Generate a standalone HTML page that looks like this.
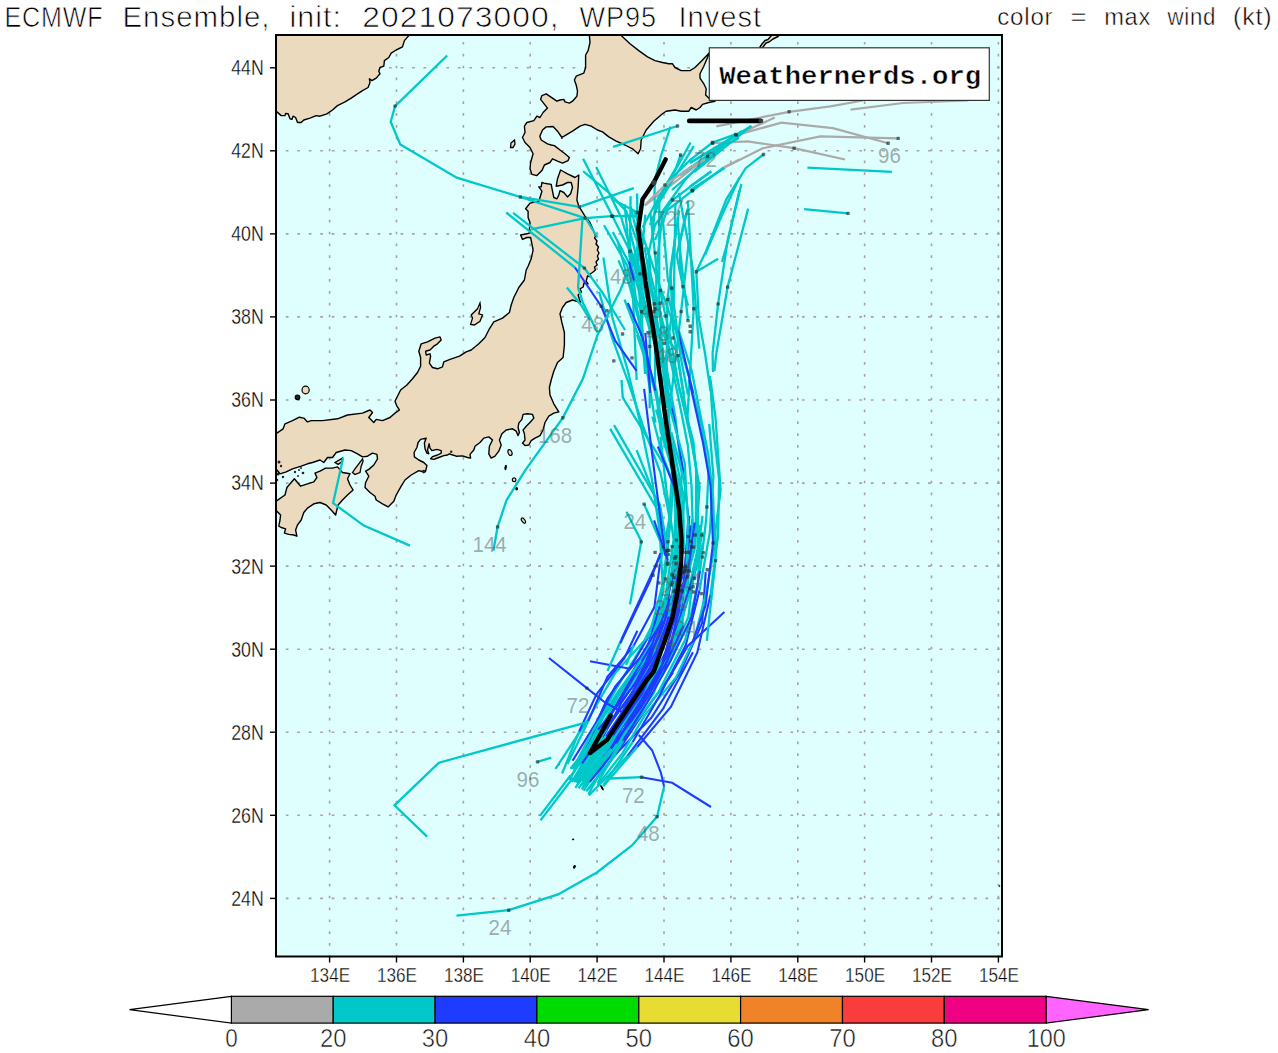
<!DOCTYPE html>
<html><head><meta charset="utf-8"><title>ECMWF Ensemble WP95</title>
<style>
html,body{margin:0;padding:0;background:#fff;}
body{width:1278px;height:1053px;overflow:hidden;font-family:"Liberation Sans",sans-serif;}
svg{display:block;}
.land{fill:#ebdabe;stroke:#000;stroke-width:1.4;stroke-linejoin:round;}
.isl{fill:#ebdabe;stroke:#000;stroke-width:1.3;}
.t{font-family:"Liberation Sans",sans-serif;fill:#000;stroke:#fff;stroke-width:0.75px;}
.hl{font-family:"Liberation Sans",sans-serif;fill:rgba(92,92,92,0.52);font-size:22.6px;text-anchor:middle;}
.ax{font-family:"Liberation Sans",sans-serif;fill:#000;font-size:20.3px;stroke:#fff;stroke-width:0.35px;}
.cb{font-family:"Liberation Sans",sans-serif;fill:#111;font-size:25.3px;text-anchor:middle;stroke:#fff;stroke-width:0.55px;}
.grid{stroke:#aaa0a0;stroke-width:1.6;stroke-dasharray:2.6 8.9;fill:none;}
</style></head><body>
<svg width="1278" height="1053" viewBox="0 0 1278 1053">
<rect x="0" y="0" width="1278" height="1053" fill="#fff"/>
<defs><clipPath id="clip"><rect x="276.0" y="35.0" width="726.0" height="921.5"/></clipPath></defs>
<rect x="276.0" y="35.0" width="726.0" height="921.5" fill="#dfffff"/>
<g clip-path="url(#clip)">
<path class="grid" style="stroke-dasharray:2.7 9.1575" d="M329.6,957.65 V35.0"/>
<path class="grid" style="stroke-dasharray:2.7 9.1575" d="M396.5,957.65 V35.0"/>
<path class="grid" style="stroke-dasharray:2.7 9.1575" d="M463.4,957.65 V35.0"/>
<path class="grid" style="stroke-dasharray:2.7 9.1575" d="M530.2,957.65 V35.0"/>
<path class="grid" style="stroke-dasharray:2.7 9.1575" d="M597.1,957.65 V35.0"/>
<path class="grid" style="stroke-dasharray:2.7 9.1575" d="M664.0,957.65 V35.0"/>
<path class="grid" style="stroke-dasharray:2.7 9.1575" d="M730.9,957.65 V35.0"/>
<path class="grid" style="stroke-dasharray:2.7 9.1575" d="M797.8,957.65 V35.0"/>
<path class="grid" style="stroke-dasharray:2.7 9.1575" d="M864.6,957.65 V35.0"/>
<path class="grid" style="stroke-dasharray:2.7 9.1575" d="M931.5,957.65 V35.0"/>
<path class="grid" style="stroke-dasharray:2.7 9.1575" d="M998.4,957.65 V35.0"/>
<path class="grid" style="stroke-dasharray:2.7 8.77" d="M274.35,898.4 H1002.0"/>
<path class="grid" style="stroke-dasharray:2.7 8.77" d="M274.35,815.3 H1002.0"/>
<path class="grid" style="stroke-dasharray:2.7 8.77" d="M274.35,732.2 H1002.0"/>
<path class="grid" style="stroke-dasharray:2.7 8.77" d="M274.35,649.2 H1002.0"/>
<path class="grid" style="stroke-dasharray:2.7 8.77" d="M274.35,566.1 H1002.0"/>
<path class="grid" style="stroke-dasharray:2.7 8.77" d="M274.35,483.1 H1002.0"/>
<path class="grid" style="stroke-dasharray:2.7 8.77" d="M274.35,400.0 H1002.0"/>
<path class="grid" style="stroke-dasharray:2.7 8.77" d="M274.35,316.9 H1002.0"/>
<path class="grid" style="stroke-dasharray:2.7 8.77" d="M274.35,233.9 H1002.0"/>
<path class="grid" style="stroke-dasharray:2.7 8.77" d="M274.35,150.8 H1002.0"/>
<path class="grid" style="stroke-dasharray:2.7 8.77" d="M274.35,67.8 H1002.0"/>
<path class="land" d="M274.0,33.0 L408.8,33.0 L408.8,35.6 L404.4,40.6 L402.5,46.9 L396.2,50.0 L391.2,53.1 L388.8,57.5 L384.4,60.6 L383.8,66.2 L380.0,67.5 L378.8,71.2 L380.0,73.8 L376.2,78.1 L371.9,80.6 L369.4,78.8 L370.0,82.5 L368.1,87.5 L362.5,90.6 L357.5,93.8 L351.2,98.1 L345.0,101.9 L337.5,105.6 L332.5,110.0 L326.9,113.8 L320.0,116.2 L316.2,115.6 L310.0,118.1 L303.8,120.0 L301.2,122.5 L297.5,122.5 L295.6,117.5 L293.1,116.2 L291.9,119.4 L290.0,118.8 L288.1,113.8 L285.6,113.5 L285.0,115.6 L281.2,115.6 L276.9,111.9 L274.0,110.0Z"/>
<path class="land" d="M589.4,33.0 L589.4,35.6 L590.0,42.5 L588.1,50.6 L585.6,55.0 L585.6,67.5 L583.8,73.1 L576.2,76.2 L574.4,80.0 L576.2,85.0 L577.5,91.2 L576.9,96.2 L572.5,101.2 L569.4,103.1 L565.0,101.9 L563.8,99.4 L560.0,100.0 L556.9,101.2 L546.2,93.8 L541.9,95.6 L540.6,99.4 L547.5,108.1 L543.1,112.5 L540.0,117.5 L536.9,116.2 L533.8,120.6 L526.9,122.5 L524.4,126.2 L525.0,132.5 L522.5,137.5 L525.0,142.5 L530.0,147.5 L533.1,153.8 L530.6,162.5 L530.0,168.8 L531.9,174.4 L536.9,175.6 L541.9,170.6 L544.4,165.0 L550.0,162.5 L552.5,158.8 L557.5,161.2 L562.5,163.1 L568.1,160.6 L569.4,157.5 L565.0,153.8 L560.0,150.0 L554.4,145.6 L551.2,145.0 L547.5,143.8 L541.2,140.0 L539.8,136.2 L542.5,130.0 L546.2,126.9 L553.1,126.5 L557.5,131.2 L561.9,137.5 L565.0,135.6 L572.5,131.2 L580.0,126.2 L585.0,124.4 L591.2,126.2 L597.5,130.0 L602.5,131.9 L608.8,136.9 L616.2,141.2 L625.0,145.0 L632.5,148.8 L638.1,153.8 L640.6,148.8 L641.2,140.0 L646.2,130.0 L653.8,121.2 L662.5,113.8 L666.2,111.2 L675.0,110.0 L681.2,111.2 L688.8,111.2 L691.2,107.5 L696.2,110.0 L700.0,107.5 L702.5,104.4 L708.8,102.5 L715.0,101.2 L708.8,98.1 L705.6,95.0 L706.2,88.8 L703.8,83.8 L700.0,78.1 L700.0,73.8 L703.8,66.2 L708.8,54.4 L712.0,50.0 L702.5,60.0 L695.0,67.5 L690.0,70.6 L681.2,70.6 L675.0,67.5 L672.5,63.8 L668.8,63.8 L662.5,62.5 L655.0,60.6 L647.5,56.9 L638.8,50.6 L630.0,43.8 L621.2,35.6 L621.2,33.0Z"/>
<path class="land" d="M780.5,33.0 L778.0,36.5 L773.0,39.0 L769.0,42.0 L766.0,43.0 L763.0,47.0 L761.0,48.5 L760.0,47.0 L762.0,44.0 L765.0,40.5 L768.0,39.5 L771.0,36.0 L775.0,33.0Z"/>
<path class="land" d="M541.9,182.5 L543.8,183.1 L547.5,183.8 L551.2,184.4 L552.5,191.2 L553.8,197.5 L556.9,198.8 L558.8,195.0 L560.0,190.6 L563.8,192.5 L567.5,196.9 L570.6,193.8 L572.5,187.5 L571.2,182.5 L567.5,182.5 L562.5,185.0 L556.2,186.2 L557.5,178.8 L560.6,170.0 L567.5,173.8 L575.0,177.5 L578.8,175.0 L578.1,187.5 L576.9,200.0 L578.8,206.2 L585.0,216.2 L590.0,222.5 L593.8,231.2 L595.5,236.0 L594.6,238.0 L597.0,241.0 L596.0,244.0 L598.5,247.0 L597.3,250.0 L599.0,253.0 L597.4,256.0 L598.5,259.0 L596.0,262.0 L597.2,265.0 L594.5,267.0 L595.4,270.0 L592.5,272.5 L590.0,274.0 L591.2,277.0 L587.5,276.0 L586.2,281.2 L588.0,284.0 L584.0,283.0 L583.2,287.0 L580.0,288.8 L581.5,292.0 L578.1,295.0 L579.3,299.0 L580.6,302.5 L572.5,300.0 L566.2,302.5 L562.5,307.5 L560.0,313.8 L561.9,322.5 L564.4,332.5 L564.4,345.0 L563.1,357.5 L557.5,362.5 L553.8,371.2 L551.2,380.0 L549.4,387.5 L550.0,395.0 L553.8,403.8 L558.8,411.9 L553.8,413.1 L548.8,416.2 L545.0,422.5 L543.1,430.0 L540.0,435.6 L535.0,438.1 L531.2,440.6 L528.8,445.0 L525.0,445.6 L522.5,443.1 L525.0,440.0 L524.4,433.8 L523.1,430.0 L526.2,426.2 L530.0,422.5 L533.8,418.1 L532.5,414.4 L527.5,413.8 L523.1,414.4 L521.9,419.4 L518.8,423.1 L518.1,427.5 L519.4,432.5 L518.1,435.6 L516.2,431.2 L512.5,428.8 L506.2,430.0 L501.9,433.8 L499.4,440.0 L501.2,445.0 L498.8,451.2 L495.0,456.2 L491.2,458.1 L488.8,453.8 L489.4,446.2 L492.5,440.0 L488.8,436.9 L483.8,438.1 L480.0,442.5 L475.0,446.2 L473.8,450.0 L470.0,454.4 L470.6,458.1 L467.5,457.5 L462.5,455.9 L456.2,456.2 L451.2,454.5 L449.4,453.8 L447.5,455.0 L443.8,455.6 L438.8,457.5 L433.8,459.4 L430.6,458.8 L432.5,456.6 L437.5,455.0 L441.2,453.1 L441.2,450.6 L436.9,449.4 L431.9,450.6 L430.0,448.1 L429.1,443.8 L427.5,450.0 L428.8,453.8 L426.9,453.1 L425.0,448.8 L424.4,443.1 L426.2,438.1 L420.6,439.4 L418.1,442.5 L416.9,447.5 L414.1,452.5 L414.4,456.9 L418.8,460.0 L423.8,462.5 L426.9,465.6 L425.5,471.5 L422.0,471.5 L418.8,470.6 L411.2,475.0 L405.0,480.0 L401.2,486.2 L396.2,495.0 L393.8,501.2 L388.1,506.9 L382.5,503.8 L376.2,500.0 L375.0,496.2 L370.0,492.5 L365.0,487.5 L365.6,482.5 L368.8,476.2 L365.6,471.2 L368.8,469.4 L373.8,465.0 L377.5,458.8 L376.9,454.4 L372.5,453.1 L367.5,456.2 L362.5,456.9 L357.5,453.8 L351.2,450.6 L345.0,450.0 L336.2,452.5 L332.5,457.5 L327.5,457.5 L323.8,462.5 L320.0,460.0 L312.5,462.5 L307.5,463.8 L301.2,466.2 L292.5,468.8 L286.2,471.9 L280.0,473.8 L276.9,470.0 L274.0,470.0 L274.0,434.0 L276.9,433.1 L283.1,428.8 L285.0,423.8 L292.5,420.6 L299.4,417.2 L303.8,418.1 L307.5,421.9 L311.2,420.6 L322.5,420.6 L337.5,418.8 L347.5,415.0 L362.5,413.1 L370.0,410.0 L372.5,412.5 L368.8,417.5 L373.8,422.5 L376.2,419.4 L382.5,420.6 L390.0,417.5 L395.0,413.1 L399.4,410.0 L396.9,406.2 L395.0,401.2 L397.5,396.2 L400.6,390.0 L406.9,385.0 L412.5,378.8 L417.5,372.5 L420.6,366.2 L420.6,357.5 L418.8,351.2 L421.2,343.8 L427.5,341.9 L435.0,338.1 L440.0,336.9 L441.2,340.0 L437.5,343.8 L433.8,346.2 L430.0,350.0 L425.6,351.2 L426.2,355.0 L430.0,353.8 L430.6,356.2 L429.4,363.1 L432.5,367.5 L437.5,368.8 L442.5,366.9 L443.8,361.9 L450.0,359.4 L459.5,356.2 L466.2,351.9 L471.2,350.0 L478.8,343.8 L485.0,337.5 L489.4,328.8 L493.8,321.9 L502.5,318.1 L509.4,312.5 L511.2,305.0 L513.8,297.5 L518.8,287.5 L524.4,280.0 L526.2,270.0 L528.1,266.2 L531.2,258.8 L533.1,250.0 L531.9,243.8 L530.6,237.5 L526.9,237.5 L522.5,239.4 L520.6,235.0 L526.9,233.8 L530.6,232.5 L529.4,228.8 L530.0,222.5 L528.1,217.5 L528.1,211.2 L525.6,208.8 L530.0,203.1 L538.8,201.2 L540.0,197.5 L541.9,191.2 L538.8,186.9 L541.2,186.9Z"/>
<path class="land" d="M274.0,500.6 L276.9,500.6 L285.0,495.0 L286.9,487.5 L294.4,478.8 L300.6,486.2 L307.5,483.8 L313.8,481.9 L316.9,477.5 L315.0,473.1 L320.0,471.2 L325.6,468.1 L332.5,468.1 L337.5,466.9 L342.5,472.5 L350.0,473.8 L347.5,478.8 L350.0,485.0 L353.1,490.0 L347.5,495.0 L342.5,500.0 L338.1,505.0 L335.6,515.0 L331.2,510.0 L326.2,505.0 L320.0,502.5 L313.8,503.8 L307.5,508.1 L303.8,512.5 L301.2,520.0 L297.5,525.0 L295.6,530.0 L296.9,536.2 L293.8,535.0 L288.8,534.4 L284.4,533.1 L285.6,528.8 L281.2,527.5 L278.8,526.2 L280.0,520.0 L280.6,515.0 L276.9,511.2 L274.0,511.0Z"/>
<path class="isl" d="M514.5,140.0 L511.0,143.0 L510.5,147.5 L513.0,147.5 L515.0,144.0Z"/>
<path class="isl" d="M480.0,303.1 L477.5,308.8 L471.2,315.0 L472.5,318.1 L470.6,324.4 L474.4,325.0 L480.0,321.2 L482.5,315.0 L478.8,313.8 L480.6,307.5Z"/>
<path class="isl" d="M362.5,458.8 L358.8,463.8 L355.0,468.8 L352.5,472.5 L355.0,474.4 L360.0,472.5 L361.2,466.2 L363.1,461.2Z"/>
<path class="isl" d="M342.5,458.1 L335.0,462.5 L338.1,464.4 L341.9,461.9Z"/>
<ellipse cx="305.6" cy="390" rx="3.6" ry="3.8" transform="rotate(0 305.6 390)" fill="#ebdabe" stroke="#000" stroke-width="1.2"/>
<ellipse cx="297.5" cy="397.3" rx="2.3" ry="2.3" transform="rotate(0 297.5 397.3)" fill="#222" stroke="#000" stroke-width="1.2"/>
<ellipse cx="510" cy="452.5" rx="1.9" ry="3.0" transform="rotate(-20 510 452.5)" fill="#ebdabe" stroke="#000" stroke-width="1.2"/>
<ellipse cx="505.6" cy="467.5" rx="0.6" ry="2.3" transform="rotate(10 505.6 467.5)" fill="#000" stroke="#000" stroke-width="1.2"/>
<ellipse cx="514.1" cy="479.8" rx="1.8" ry="1.9" transform="rotate(0 514.1 479.8)" fill="#ebdabe" stroke="#000" stroke-width="1.2"/>
<ellipse cx="516.6" cy="488.8" rx="0.8" ry="1.2" transform="rotate(0 516.6 488.8)" fill="#000" stroke="#000" stroke-width="1.2"/>
<ellipse cx="523.4" cy="520.6" rx="1.5" ry="3.0" transform="rotate(-35 523.4 520.6)" fill="#ebdabe" stroke="#000" stroke-width="1.2"/>
<ellipse cx="602" cy="787.8" rx="0.5" ry="2.6" transform="rotate(-30 602 787.8)" fill="#000" stroke="#000" stroke-width="1"/>
<ellipse cx="573.1" cy="839.4" rx="0.6" ry="0.6" transform="rotate(0 573.1 839.4)" fill="#000" stroke="#000" stroke-width="1"/>
<ellipse cx="574.4" cy="866.8" rx="0.8" ry="1.4" transform="rotate(30 574.4 866.8)" fill="#000" stroke="#000" stroke-width="1"/>
<ellipse cx="559.3" cy="764.5" rx="0.3" ry="0.3" transform="rotate(0 559.3 764.5)" fill="#000" stroke="#000" stroke-width="0.8"/>
<ellipse cx="541" cy="629" rx="0.3" ry="0.3" transform="rotate(0 541 629)" fill="#000" stroke="#000" stroke-width="0.8"/>
<ellipse cx="999.5" cy="886" rx="0.3" ry="0.6" transform="rotate(0 999.5 886)" fill="#000" stroke="#000" stroke-width="0.8"/>
<circle cx="279" cy="462" r="1.5" fill="#222"/>
<circle cx="281" cy="466" r="1.2" fill="#222"/>
<circle cx="278" cy="474" r="1.5" fill="#222"/>
<circle cx="283" cy="477" r="1.2" fill="#222"/>
<circle cx="277" cy="480" r="1.3" fill="#222"/>
<circle cx="295" cy="472" r="1.2" fill="#222"/>
<circle cx="299" cy="470" r="1.0" fill="#222"/>
<circle cx="303" cy="473" r="1.3" fill="#222"/>
<circle cx="298" cy="476" r="1.0" fill="#222"/>
<circle cx="301" cy="468" r="1.0" fill="#222"/>
<circle cx="423.75" cy="471.6" r="1.8" fill="#222"/>
<circle cx="451.2" cy="451.8" r="1.2" fill="#222"/>
<circle cx="561.9" cy="137.9" r="1.0" fill="#222"/>
<path d="M574.2,771.5 L594.2,728.0 L617.6,686.5 L639.3,650.8 L659.8,610.1 L666.9,564.3 L669.0,519.8 L672.1,472.4 L663.5,425.9 L651.9,379.7 L637.0,334.7" stroke="#00c8c8" stroke-width="2.3" fill="none" stroke-linejoin="miter" stroke-miterlimit="3" stroke-linecap="butt"/>
<path d="M575.4,787.9 L600.7,748.4" stroke="#00c8c8" stroke-width="2.3" fill="none" stroke-linejoin="miter" stroke-miterlimit="3" stroke-linecap="butt"/>
<path d="M600.7,748.4 L632.5,713.1 L662.9,674.2 L680.6,630.4" stroke="#1e3cff" stroke-width="2.1" fill="none" stroke-linejoin="miter" stroke-miterlimit="3" stroke-linecap="butt"/>
<path d="M580.2,778.7 L611.3,730.9 L644.8,684.7 L667.3,632.7 L686.5,578.0 L692.2,519.2" stroke="#00c8c8" stroke-width="2.3" fill="none" stroke-linejoin="miter" stroke-miterlimit="3" stroke-linecap="butt"/>
<path d="M588.5,794.1 L605.9,761.5" stroke="#00c8c8" stroke-width="2.3" fill="none" stroke-linejoin="miter" stroke-miterlimit="3" stroke-linecap="butt"/>
<path d="M605.9,761.5 L629.2,729.8 L647.5,696.3 L663.8,660.2 L679.1,624.9 L684.6,585.6" stroke="#1e3cff" stroke-width="2.1" fill="none" stroke-linejoin="miter" stroke-miterlimit="3" stroke-linecap="butt"/>
<path d="M684.6,585.6 L695.2,547.0 L696.1,506.1 L696.1,467.4 L689.6,429.7 L683.0,392.4 L677.8,354.5" stroke="#00c8c8" stroke-width="2.3" fill="none" stroke-linejoin="miter" stroke-miterlimit="3" stroke-linecap="butt"/>
<path d="M583.7,772.8 L611.3,739.4" stroke="#00c8c8" stroke-width="2.3" fill="none" stroke-linejoin="miter" stroke-miterlimit="3" stroke-linecap="butt"/>
<path d="M611.3,739.4 L640.0,706.6 L664.4,668.5 L681.4,628.5" stroke="#1e3cff" stroke-width="2.1" fill="none" stroke-linejoin="miter" stroke-miterlimit="3" stroke-linecap="butt"/>
<path d="M681.4,628.5 L688.0,583.6 L691.7,538.5" stroke="#00c8c8" stroke-width="2.3" fill="none" stroke-linejoin="miter" stroke-miterlimit="3" stroke-linecap="butt"/>
<path d="M574.2,782.1 L606.3,740.7" stroke="#00c8c8" stroke-width="2.3" fill="none" stroke-linejoin="miter" stroke-miterlimit="3" stroke-linecap="butt"/>
<path d="M606.3,740.7 L632.2,695.1 L654.4,649.9 L668.0,600.6 L675.1,550.1" stroke="#1e3cff" stroke-width="2.1" fill="none" stroke-linejoin="miter" stroke-miterlimit="3" stroke-linecap="butt"/>
<path d="M580.8,772.6 L614.5,729.2 L642.6,682.1 L667.2,634.2 L683.7,581.5 L690.6,525.5" stroke="#1e3cff" stroke-width="2.1" fill="none" stroke-linejoin="miter" stroke-miterlimit="3" stroke-linecap="butt"/>
<path d="M586.2,791.2 L615.8,754.1" stroke="#00c8c8" stroke-width="2.3" fill="none" stroke-linejoin="miter" stroke-miterlimit="3" stroke-linecap="butt"/>
<path d="M615.8,754.1 L651.3,717.8 L680.7,671.6 L702.2,622.8 L705.7,572.1" stroke="#1e3cff" stroke-width="2.1" fill="none" stroke-linejoin="miter" stroke-miterlimit="3" stroke-linecap="butt"/>
<path d="M578.9,773.1 L614.2,729.1" stroke="#00c8c8" stroke-width="2.3" fill="none" stroke-linejoin="miter" stroke-miterlimit="3" stroke-linecap="butt"/>
<path d="M614.2,729.1 L647.8,684.0 L669.5,632.1 L681.3,577.1" stroke="#1e3cff" stroke-width="2.1" fill="none" stroke-linejoin="miter" stroke-miterlimit="3" stroke-linecap="butt"/>
<path d="M681.3,577.1 L683.2,520.6 L674.6,464.9 L667.1,409.3" stroke="#00c8c8" stroke-width="2.3" fill="none" stroke-linejoin="miter" stroke-miterlimit="3" stroke-linecap="butt"/>
<path d="M574.3,767.1 L603.6,724.0 L633.3,681.1 L659.8,639.0 L666.6,589.0 L673.6,539.3 L666.2,488.5 L660.5,436.7" stroke="#00c8c8" stroke-width="2.3" fill="none" stroke-linejoin="miter" stroke-miterlimit="3" stroke-linecap="butt"/>
<path d="M577.1,781.5 L609.9,736.2" stroke="#00c8c8" stroke-width="2.3" fill="none" stroke-linejoin="miter" stroke-miterlimit="3" stroke-linecap="butt"/>
<path d="M609.9,736.2 L635.3,685.9 L659.4,638.0 L669.3,584.5" stroke="#1e3cff" stroke-width="2.1" fill="none" stroke-linejoin="miter" stroke-miterlimit="3" stroke-linecap="butt"/>
<path d="M669.3,584.5 L679.1,530.1 L681.8,473.3 L675.4,417.7 L665.7,362.7 L645.5,309.2 L633.6,253.8" stroke="#00c8c8" stroke-width="2.3" fill="none" stroke-linejoin="miter" stroke-miterlimit="3" stroke-linecap="butt"/>
<path d="M579.4,760.1 L600.9,720.1 L625.8,682.2 L647.4,647.4 L659.5,606.2" stroke="#1e3cff" stroke-width="2.1" fill="none" stroke-linejoin="miter" stroke-miterlimit="3" stroke-linecap="butt"/>
<path d="M659.5,606.2 L665.1,564.3 L670.8,520.2 L673.8,474.9 L660.7,431.2 L655.3,386.3 L641.3,343.2 L624.5,299.7" stroke="#00c8c8" stroke-width="2.3" fill="none" stroke-linejoin="miter" stroke-miterlimit="3" stroke-linecap="butt"/>
<path d="M588.7,795.5 L627.6,755.9" stroke="#00c8c8" stroke-width="2.3" fill="none" stroke-linejoin="miter" stroke-miterlimit="3" stroke-linecap="butt"/>
<path d="M627.6,755.9 L663.1,708.7 L692.9,652.3" stroke="#1e3cff" stroke-width="2.1" fill="none" stroke-linejoin="miter" stroke-miterlimit="3" stroke-linecap="butt"/>
<path d="M581.7,781.4 L614.6,739.2" stroke="#00c8c8" stroke-width="2.3" fill="none" stroke-linejoin="miter" stroke-miterlimit="3" stroke-linecap="butt"/>
<path d="M614.6,739.2 L641.5,693.1 L663.7,644.7" stroke="#1e3cff" stroke-width="2.1" fill="none" stroke-linejoin="miter" stroke-miterlimit="3" stroke-linecap="butt"/>
<path d="M595.3,774.9 L623.5,733.6 L649.9,690.9 L674.9,645.1 L689.1,594.4 L702.9,543.2" stroke="#00c8c8" stroke-width="2.3" fill="none" stroke-linejoin="miter" stroke-miterlimit="3" stroke-linecap="butt"/>
<path d="M571.0,775.6 L597.4,739.8 L623.1,705.1 L649.3,669.5 L661.6,629.6 L674.1,588.7 L672.1,545.6" stroke="#00c8c8" stroke-width="2.3" fill="none" stroke-linejoin="miter" stroke-miterlimit="3" stroke-linecap="butt"/>
<path d="M570.4,768.8 L602.6,728.5 L628.8,684.2 L655.6,643.9" stroke="#00c8c8" stroke-width="2.3" fill="none" stroke-linejoin="miter" stroke-miterlimit="3" stroke-linecap="butt"/>
<path d="M597.6,785.3 L622.5,753.1 L645.0,714.8 L676.0,677.4 L694.7,638.0 L706.4,591.4 L714.7,545.6 L713.1,497.0 L708.3,454.4 L700.0,412.9 L691.7,370.7 L678.1,328.4" stroke="#00c8c8" stroke-width="2.3" fill="none" stroke-linejoin="miter" stroke-miterlimit="3" stroke-linecap="butt"/>
<path d="M572.6,769.4 L591.7,733.8" stroke="#00c8c8" stroke-width="2.3" fill="none" stroke-linejoin="miter" stroke-miterlimit="3" stroke-linecap="butt"/>
<path d="M591.7,733.8 L607.2,698.9 L631.3,665.8 L647.5,638.6 L665.3,605.3 L674.9,568.1" stroke="#1e3cff" stroke-width="2.1" fill="none" stroke-linejoin="miter" stroke-miterlimit="3" stroke-linecap="butt"/>
<path d="M674.9,568.1 L674.7,530.6 L676.4,491.6 L662.2,454.5 L652.4,416.5" stroke="#00c8c8" stroke-width="2.3" fill="none" stroke-linejoin="miter" stroke-miterlimit="3" stroke-linecap="butt"/>
<path d="M581.5,772.3 L602.7,737.4" stroke="#00c8c8" stroke-width="2.3" fill="none" stroke-linejoin="miter" stroke-miterlimit="3" stroke-linecap="butt"/>
<path d="M602.7,737.4 L621.8,702.1 L645.1,668.1 L655.8,632.7" stroke="#1e3cff" stroke-width="2.1" fill="none" stroke-linejoin="miter" stroke-miterlimit="3" stroke-linecap="butt"/>
<path d="M655.8,632.7 L667.1,595.4" stroke="#00c8c8" stroke-width="2.3" fill="none" stroke-linejoin="miter" stroke-miterlimit="3" stroke-linecap="butt"/>
<path d="M555.4,768.9 L586.5,722.0 L615.0,673.3 L649.3,635.2 L662.6,584.5 L659.9,532.5 L651.8,478.8 L640.5,424.1 L627.4,369.1 L612.0,316.2 L603.4,257.7" stroke="#00c8c8" stroke-width="2.3" fill="none" stroke-linejoin="miter" stroke-miterlimit="3" stroke-linecap="butt"/>
<path d="M574.1,781.5 L598.6,733.6" stroke="#00c8c8" stroke-width="2.3" fill="none" stroke-linejoin="miter" stroke-miterlimit="3" stroke-linecap="butt"/>
<path d="M598.6,733.6 L625.7,689.2 L653.4,647.7 L671.6,599.1 L683.8,547.7" stroke="#1e3cff" stroke-width="2.1" fill="none" stroke-linejoin="miter" stroke-miterlimit="3" stroke-linecap="butt"/>
<path d="M683.8,547.7 L683.2,494.3 L672.4,442.7" stroke="#00c8c8" stroke-width="2.3" fill="none" stroke-linejoin="miter" stroke-miterlimit="3" stroke-linecap="butt"/>
<path d="M583.5,790.7 L608.8,753.2" stroke="#00c8c8" stroke-width="2.3" fill="none" stroke-linejoin="miter" stroke-miterlimit="3" stroke-linecap="butt"/>
<path d="M608.8,753.2 L630.2,711.2 L659.1,673.3 L675.9,630.0" stroke="#1e3cff" stroke-width="2.1" fill="none" stroke-linejoin="miter" stroke-miterlimit="3" stroke-linecap="butt"/>
<path d="M675.9,630.0 L684.8,583.3 L695.8,535.3 L699.6,487.0 L691.4,441.4 L681.5,396.4 L670.0,351.2 L658.6,305.8 L647.2,261.2" stroke="#00c8c8" stroke-width="2.3" fill="none" stroke-linejoin="miter" stroke-miterlimit="3" stroke-linecap="butt"/>
<path d="M603.2,786.3 L637.4,746.7" stroke="#00c8c8" stroke-width="2.3" fill="none" stroke-linejoin="miter" stroke-miterlimit="3" stroke-linecap="butt"/>
<path d="M637.4,746.7 L671.0,706.7 L697.3,652.4 L710.6,594.6" stroke="#1e3cff" stroke-width="2.1" fill="none" stroke-linejoin="miter" stroke-miterlimit="3" stroke-linecap="butt"/>
<path d="M710.6,594.6 L718.1,535.2 L719.1,479.5 L713.1,427.5 L710.0,375.8" stroke="#00c8c8" stroke-width="2.3" fill="none" stroke-linejoin="miter" stroke-miterlimit="3" stroke-linecap="butt"/>
<path d="M580.6,761.0 L604.1,715.9 L633.6,674.6 L653.8,632.9 L669.2,586.8 L678.8,537.9 L680.5,486.8 L664.4,438.2 L656.0,388.2" stroke="#00c8c8" stroke-width="2.3" fill="none" stroke-linejoin="miter" stroke-miterlimit="3" stroke-linecap="butt"/>
<path d="M587.4,789.9 L616.1,754.2" stroke="#00c8c8" stroke-width="2.3" fill="none" stroke-linejoin="miter" stroke-miterlimit="3" stroke-linecap="butt"/>
<path d="M616.1,754.2 L642.7,714.0 L673.1,672.4" stroke="#1e3cff" stroke-width="2.1" fill="none" stroke-linejoin="miter" stroke-miterlimit="3" stroke-linecap="butt"/>
<path d="M581.4,777.0 L606.0,736.4" stroke="#00c8c8" stroke-width="2.3" fill="none" stroke-linejoin="miter" stroke-miterlimit="3" stroke-linecap="butt"/>
<path d="M606.0,736.4 L632.5,696.9 L656.3,656.9 L672.0,612.2 L685.3,566.1 L688.4,517.4 L683.0,469.5 L675.0,422.6 L664.5,376.1" stroke="#1e3cff" stroke-width="2.1" fill="none" stroke-linejoin="miter" stroke-miterlimit="3" stroke-linecap="butt"/>
<path d="M581.0,767.7 L606.7,728.9" stroke="#00c8c8" stroke-width="2.3" fill="none" stroke-linejoin="miter" stroke-miterlimit="3" stroke-linecap="butt"/>
<path d="M606.7,728.9 L633.4,690.7 L656.1,652.0 L671.8,608.7 L685.2,563.3 L689.4,516.0" stroke="#1e3cff" stroke-width="2.1" fill="none" stroke-linejoin="miter" stroke-miterlimit="3" stroke-linecap="butt"/>
<path d="M578.6,773.5 L601.5,730.2" stroke="#00c8c8" stroke-width="2.3" fill="none" stroke-linejoin="miter" stroke-miterlimit="3" stroke-linecap="butt"/>
<path d="M601.5,730.2 L627.1,688.4 L649.8,649.0" stroke="#1e3cff" stroke-width="2.1" fill="none" stroke-linejoin="miter" stroke-miterlimit="3" stroke-linecap="butt"/>
<path d="M579.5,765.6 L600.3,729.0 L620.7,692.0 L644.0,661.1 L657.7,621.7 L669.1,583.5 L681.4,542.9 L683.0,500.4" stroke="#00c8c8" stroke-width="2.3" fill="none" stroke-linejoin="miter" stroke-miterlimit="3" stroke-linecap="butt"/>
<path d="M581.7,789.3 L607.5,747.5" stroke="#00c8c8" stroke-width="2.3" fill="none" stroke-linejoin="miter" stroke-miterlimit="3" stroke-linecap="butt"/>
<path d="M607.5,747.5 L636.8,706.7 L667.9,664.7" stroke="#1e3cff" stroke-width="2.1" fill="none" stroke-linejoin="miter" stroke-miterlimit="3" stroke-linecap="butt"/>
<path d="M667.9,664.7 L688.4,616.7 L694.8,564.7" stroke="#00c8c8" stroke-width="2.3" fill="none" stroke-linejoin="miter" stroke-miterlimit="3" stroke-linecap="butt"/>
<path d="M577.4,783.1 L611.7,736.6" stroke="#00c8c8" stroke-width="2.3" fill="none" stroke-linejoin="miter" stroke-miterlimit="3" stroke-linecap="butt"/>
<path d="M611.7,736.6 L646.8,690.6 L672.5,637.8 L686.2,580.5" stroke="#1e3cff" stroke-width="2.1" fill="none" stroke-linejoin="miter" stroke-miterlimit="3" stroke-linecap="butt"/>
<path d="M686.2,580.5 L688.0,521.4 L684.7,462.9 L669.5,406.9 L661.2,349.7 L653.1,292.5" stroke="#00c8c8" stroke-width="2.3" fill="none" stroke-linejoin="miter" stroke-miterlimit="3" stroke-linecap="butt"/>
<path d="M585.2,784.9 L616.3,743.4" stroke="#00c8c8" stroke-width="2.3" fill="none" stroke-linejoin="miter" stroke-miterlimit="3" stroke-linecap="butt"/>
<path d="M616.3,743.4 L642.0,698.3 L668.7,652.3" stroke="#1e3cff" stroke-width="2.1" fill="none" stroke-linejoin="miter" stroke-miterlimit="3" stroke-linecap="butt"/>
<path d="M668.7,652.3 L686.3,602.0 L697.6,548.7 L698.3,493.5 L693.4,441.7 L679.9,391.4" stroke="#00c8c8" stroke-width="2.3" fill="none" stroke-linejoin="miter" stroke-miterlimit="3" stroke-linecap="butt"/>
<path d="M584.4,786.2 L603.8,751.5" stroke="#00c8c8" stroke-width="2.3" fill="none" stroke-linejoin="miter" stroke-miterlimit="3" stroke-linecap="butt"/>
<path d="M603.8,751.5 L626.5,717.9 L646.5,682.8 L662.5,646.2 L679.9,608.9" stroke="#1e3cff" stroke-width="2.1" fill="none" stroke-linejoin="miter" stroke-miterlimit="3" stroke-linecap="butt"/>
<path d="M679.9,608.9 L689.9,569.2 L692.8,526.8 L691.5,485.5 L687.8,445.3 L680.1,406.0 L671.9,366.4 L662.8,326.6 L651.3,287.8 L648.6,248.0" stroke="#00c8c8" stroke-width="2.3" fill="none" stroke-linejoin="miter" stroke-miterlimit="3" stroke-linecap="butt"/>
<path d="M603.4,785.2 L632.7,742.0" stroke="#00c8c8" stroke-width="2.3" fill="none" stroke-linejoin="miter" stroke-miterlimit="3" stroke-linecap="butt"/>
<path d="M632.7,742.0 L659.1,696.5 L685.7,645.3 L699.5,590.3" stroke="#1e3cff" stroke-width="2.1" fill="none" stroke-linejoin="miter" stroke-miterlimit="3" stroke-linecap="butt"/>
<path d="M699.5,590.3 L709.8,532.6 L713.4,476.6 L709.2,423.8" stroke="#00c8c8" stroke-width="2.3" fill="none" stroke-linejoin="miter" stroke-miterlimit="3" stroke-linecap="butt"/>
<path d="M592.2,777.3 L626.2,734.9 L658.8,691.6 L685.4,639.5 L698.1,583.1 L700.0,524.9" stroke="#00c8c8" stroke-width="2.3" fill="none" stroke-linejoin="miter" stroke-miterlimit="3" stroke-linecap="butt"/>
<path d="M576.3,782.7 L604.9,741.4" stroke="#00c8c8" stroke-width="2.3" fill="none" stroke-linejoin="miter" stroke-miterlimit="3" stroke-linecap="butt"/>
<path d="M604.9,741.4 L633.3,700.0 L657.3,656.7" stroke="#1e3cff" stroke-width="2.1" fill="none" stroke-linejoin="miter" stroke-miterlimit="3" stroke-linecap="butt"/>
<path d="M562.1,773.5 L579.2,731.2" stroke="#00c8c8" stroke-width="2.3" fill="none" stroke-linejoin="miter" stroke-miterlimit="3" stroke-linecap="butt"/>
<path d="M579.2,731.2 L596.5,694.4 L624.2,658.4 L637.4,630.8" stroke="#1e3cff" stroke-width="2.1" fill="none" stroke-linejoin="miter" stroke-miterlimit="3" stroke-linecap="butt"/>
<path d="M589.9,781.9 L619.7,744.9 L642.6,703.2 L664.9,659.6 L681.5,613.8 L696.0,567.2" stroke="#1e3cff" stroke-width="2.1" fill="none" stroke-linejoin="miter" stroke-miterlimit="3" stroke-linecap="butt"/>
<path d="M696.0,567.2 L702.5,515.9" stroke="#00c8c8" stroke-width="2.3" fill="none" stroke-linejoin="miter" stroke-miterlimit="3" stroke-linecap="butt"/>
<path d="M569.4,780.0 L598.1,729.6" stroke="#00c8c8" stroke-width="2.3" fill="none" stroke-linejoin="miter" stroke-miterlimit="3" stroke-linecap="butt"/>
<path d="M598.1,729.6 L634.7,684.3 L659.8,634.9 L679.3,580.8" stroke="#1e3cff" stroke-width="2.1" fill="none" stroke-linejoin="miter" stroke-miterlimit="3" stroke-linecap="butt"/>
<path d="M679.3,580.8 L682.8,522.9 L673.2,465.7 L656.0,409.7" stroke="#00c8c8" stroke-width="2.3" fill="none" stroke-linejoin="miter" stroke-miterlimit="3" stroke-linecap="butt"/>
<path d="M597.6,783.2 L623.0,736.7 L653.6,693.2 L673.6,641.1 L691.6,588.4 L702.5,531.8" stroke="#00c8c8" stroke-width="2.3" fill="none" stroke-linejoin="miter" stroke-miterlimit="3" stroke-linecap="butt"/>
<path d="M578.4,788.2 L602.3,759.0" stroke="#00c8c8" stroke-width="2.3" fill="none" stroke-linejoin="miter" stroke-miterlimit="3" stroke-linecap="butt"/>
<path d="M602.3,759.0 L625.9,727.8 L648.2,696.8 L666.9,661.2 L683.4,626.1" stroke="#1e3cff" stroke-width="2.1" fill="none" stroke-linejoin="miter" stroke-miterlimit="3" stroke-linecap="butt"/>
<path d="M572.6,760.8 L595.0,724.4 L615.3,686.4 L640.1,657.4 L662.5,620.4" stroke="#1e3cff" stroke-width="2.1" fill="none" stroke-linejoin="miter" stroke-miterlimit="3" stroke-linecap="butt"/>
<path d="M662.5,620.4 L670.5,580.3 L679.6,539.1 L675.0,497.0" stroke="#00c8c8" stroke-width="2.3" fill="none" stroke-linejoin="miter" stroke-miterlimit="3" stroke-linecap="butt"/>
<path d="M571.8,782.0 L599.6,734.3" stroke="#00c8c8" stroke-width="2.3" fill="none" stroke-linejoin="miter" stroke-miterlimit="3" stroke-linecap="butt"/>
<path d="M599.6,734.3 L626.3,687.5 L652.4,643.6 L672.2,594.2" stroke="#1e3cff" stroke-width="2.1" fill="none" stroke-linejoin="miter" stroke-miterlimit="3" stroke-linecap="butt"/>
<path d="M672.2,594.2 L680.4,540.7 L685.4,485.2 L671.3,432.3" stroke="#00c8c8" stroke-width="2.3" fill="none" stroke-linejoin="miter" stroke-miterlimit="3" stroke-linecap="butt"/>
<path d="M576.6,776.0 L609.8,737.4" stroke="#00c8c8" stroke-width="2.3" fill="none" stroke-linejoin="miter" stroke-miterlimit="3" stroke-linecap="butt"/>
<path d="M609.8,737.4 L640.5,697.2 L668.8,653.7 L679.9,603.5" stroke="#1e3cff" stroke-width="2.1" fill="none" stroke-linejoin="miter" stroke-miterlimit="3" stroke-linecap="butt"/>
<path d="M567.5,763.9 L588.3,721.1" stroke="#00c8c8" stroke-width="2.3" fill="none" stroke-linejoin="miter" stroke-miterlimit="3" stroke-linecap="butt"/>
<path d="M588.3,721.1 L607.4,676.8 L633.3,646.4 L654.4,607.1 L659.8,564.1" stroke="#1e3cff" stroke-width="2.1" fill="none" stroke-linejoin="miter" stroke-miterlimit="3" stroke-linecap="butt"/>
<path d="M659.8,564.1 L669.7,518.4 L660.6,473.0 L643.7,428.0 L628.4,382.3 L612.3,338.5 L599.1,291.7" stroke="#00c8c8" stroke-width="2.3" fill="none" stroke-linejoin="miter" stroke-miterlimit="3" stroke-linecap="butt"/>
<path d="M582.1,763.3 L614.8,715.4 L653.2,671.5 L668.7,616.5" stroke="#1e3cff" stroke-width="2.1" fill="none" stroke-linejoin="miter" stroke-miterlimit="3" stroke-linecap="butt"/>
<path d="M668.7,616.5 L678.0,560.0 L675.0,502.9 L670.7,445.1 L667.1,387.2" stroke="#00c8c8" stroke-width="2.3" fill="none" stroke-linejoin="miter" stroke-miterlimit="3" stroke-linecap="butt"/>
<path d="M577.7,784.4 L609.2,745.3 L637.1,702.7 L663.5,658.9" stroke="#00c8c8" stroke-width="2.3" fill="none" stroke-linejoin="miter" stroke-miterlimit="3" stroke-linecap="butt"/>
<path d="M589.3,778.7 L613.1,734.8" stroke="#00c8c8" stroke-width="2.3" fill="none" stroke-linejoin="miter" stroke-miterlimit="3" stroke-linecap="butt"/>
<path d="M613.1,734.8 L642.1,693.9 L662.5,648.1" stroke="#1e3cff" stroke-width="2.1" fill="none" stroke-linejoin="miter" stroke-miterlimit="3" stroke-linecap="butt"/>
<path d="M662.5,648.1 L677.1,600.2" stroke="#00c8c8" stroke-width="2.3" fill="none" stroke-linejoin="miter" stroke-miterlimit="3" stroke-linecap="butt"/>
<path d="M599.5,779.0 L623.2,740.6" stroke="#00c8c8" stroke-width="2.3" fill="none" stroke-linejoin="miter" stroke-miterlimit="3" stroke-linecap="butt"/>
<path d="M623.2,740.6 L647.3,702.2 L670.9,660.3 L691.8,616.5 L700.1,570.5" stroke="#1e3cff" stroke-width="2.1" fill="none" stroke-linejoin="miter" stroke-miterlimit="3" stroke-linecap="butt"/>
<path d="M700.1,570.5 L706.1,520.5 L708.6,472.2 L701.6,427.2 L690.8,383.2 L677.6,338.1 L667.9,294.2" stroke="#00c8c8" stroke-width="2.3" fill="none" stroke-linejoin="miter" stroke-miterlimit="3" stroke-linecap="butt"/>
<path d="M574.7,765.6 L594.7,727.5 L618.3,691.5 L641.0,660.2" stroke="#00c8c8" stroke-width="2.3" fill="none" stroke-linejoin="miter" stroke-miterlimit="3" stroke-linecap="butt"/>
<path d="M581.3,785.2 L611.1,748.6" stroke="#00c8c8" stroke-width="2.3" fill="none" stroke-linejoin="miter" stroke-miterlimit="3" stroke-linecap="butt"/>
<path d="M611.1,748.6 L637.8,708.2 L661.8,665.5 L674.4,619.2 L687.9,572.3 L694.7,522.5" stroke="#1e3cff" stroke-width="2.1" fill="none" stroke-linejoin="miter" stroke-miterlimit="3" stroke-linecap="butt"/>
<path d="M670.1,388.6 L652.9,338.2 L635.8,261.9" stroke="#00c8c8" stroke-width="2.3" fill="none" stroke-linejoin="miter" stroke-miterlimit="3" stroke-linecap="butt"/>
<path d="M666.0,377.3 L654.2,303.8 L630.6,206.5" stroke="#00c8c8" stroke-width="2.3" fill="none" stroke-linejoin="miter" stroke-miterlimit="3" stroke-linecap="butt"/>
<path d="M658.2,413.8 L673.8,299.8 L675.4,203.8" stroke="#00c8c8" stroke-width="2.3" fill="none" stroke-linejoin="miter" stroke-miterlimit="3" stroke-linecap="butt"/>
<path d="M675.9,349.2 L641.6,311.6 L618.4,260.4" stroke="#00c8c8" stroke-width="2.3" fill="none" stroke-linejoin="miter" stroke-miterlimit="3" stroke-linecap="butt"/>
<path d="M687.3,420.0 L693.7,308.8 L687.9,200.8" stroke="#00c8c8" stroke-width="2.3" fill="none" stroke-linejoin="miter" stroke-miterlimit="3" stroke-linecap="butt"/>
<path d="M643.4,352.3 L640.1,273.9 L645.3,214.6" stroke="#00c8c8" stroke-width="2.3" fill="none" stroke-linejoin="miter" stroke-miterlimit="3" stroke-linecap="butt"/>
<path d="M671.1,396.5 L681.1,311.6 L688.7,243.0" stroke="#00c8c8" stroke-width="2.3" fill="none" stroke-linejoin="miter" stroke-miterlimit="3" stroke-linecap="butt"/>
<path d="M655.4,422.7 L638.8,320.7 L618.3,243.4" stroke="#00c8c8" stroke-width="2.3" fill="none" stroke-linejoin="miter" stroke-miterlimit="3" stroke-linecap="butt"/>
<path d="M645.1,374.0 L638.1,276.4 L637.1,193.6" stroke="#00c8c8" stroke-width="2.3" fill="none" stroke-linejoin="miter" stroke-miterlimit="3" stroke-linecap="butt"/>
<path d="M656.8,338.7 L656.2,269.1 L662.8,212.8" stroke="#00c8c8" stroke-width="2.3" fill="none" stroke-linejoin="miter" stroke-miterlimit="3" stroke-linecap="butt"/>
<path d="M699.3,348.6 L692.6,267.2 L678.9,192.7" stroke="#00c8c8" stroke-width="2.3" fill="none" stroke-linejoin="miter" stroke-miterlimit="3" stroke-linecap="butt"/>
<path d="M636.6,380.0 L632.6,288.0 L624.6,204.4" stroke="#00c8c8" stroke-width="2.3" fill="none" stroke-linejoin="miter" stroke-miterlimit="3" stroke-linecap="butt"/>
<path d="M649.7,408.3 L649.8,346.5 L649.3,257.6" stroke="#00c8c8" stroke-width="2.3" fill="none" stroke-linejoin="miter" stroke-miterlimit="3" stroke-linecap="butt"/>
<path d="M666.6,408.0 L659.2,303.8 L659.3,203.2" stroke="#00c8c8" stroke-width="2.3" fill="none" stroke-linejoin="miter" stroke-miterlimit="3" stroke-linecap="butt"/>
<path d="M671.6,408.7 L651.7,318.9 L629.5,229.1" stroke="#00c8c8" stroke-width="2.3" fill="none" stroke-linejoin="miter" stroke-miterlimit="3" stroke-linecap="butt"/>
<path d="M655.0,389.7 L655.0,308.8 L644.6,247.2" stroke="#00c8c8" stroke-width="2.3" fill="none" stroke-linejoin="miter" stroke-miterlimit="3" stroke-linecap="butt"/>
<path d="M642.3,331.8 L627.3,265.7 L604.0,225.3" stroke="#00c8c8" stroke-width="2.3" fill="none" stroke-linejoin="miter" stroke-miterlimit="3" stroke-linecap="butt"/>
<path d="M666.4,386.9 L667.4,299.6 L675.7,233.5" stroke="#00c8c8" stroke-width="2.3" fill="none" stroke-linejoin="miter" stroke-miterlimit="3" stroke-linecap="butt"/>
<path d="M650.9,334.2 L633.1,270.8 L612.8,232.0" stroke="#00c8c8" stroke-width="2.3" fill="none" stroke-linejoin="miter" stroke-miterlimit="3" stroke-linecap="butt"/>
<path d="M681.8,347.2 L660.6,288.7 L634.1,210.4" stroke="#00c8c8" stroke-width="2.3" fill="none" stroke-linejoin="miter" stroke-miterlimit="3" stroke-linecap="butt"/>
<path d="M447.2,55.5 L395.1,106.1 L390.7,121.8 L400.3,144.4 L456.7,177.7 L520.4,197.0 L579.4,206.9" stroke="#00c8c8" stroke-width="2.3" fill="none" stroke-linejoin="miter" stroke-miterlimit="3" stroke-linecap="butt"/>
<path d="M520.4,197.0 L585.0,218.1" stroke="#00c8c8" stroke-width="2.3" fill="none" stroke-linejoin="miter" stroke-miterlimit="3" stroke-linecap="butt"/>
<path d="M585.0,218.1 L531.2,229.4" stroke="#00c8c8" stroke-width="2.3" fill="none" stroke-linejoin="miter" stroke-miterlimit="3" stroke-linecap="butt"/>
<path d="M506.2,212.5 L575.0,267.5" stroke="#00c8c8" stroke-width="2.3" fill="none" stroke-linejoin="miter" stroke-miterlimit="3" stroke-linecap="butt"/>
<path d="M575.0,267.5 L601.2,306.2 L615.2,340.7 L636.6,370.8" stroke="#1e3cff" stroke-width="2.1" fill="none" stroke-linejoin="miter" stroke-miterlimit="3" stroke-linecap="butt"/>
<path d="M513.1,212.8 L584.4,268.1 L602.0,292.0 L625.0,330.0" stroke="#00c8c8" stroke-width="2.3" fill="none" stroke-linejoin="miter" stroke-miterlimit="3" stroke-linecap="butt"/>
<path d="M582.5,218.1 L578.1,287.5 L583.0,303.0 L597.5,332.5" stroke="#00c8c8" stroke-width="2.3" fill="none" stroke-linejoin="miter" stroke-miterlimit="3" stroke-linecap="butt"/>
<path d="M579.4,206.9 L633.8,188.1" stroke="#00c8c8" stroke-width="2.3" fill="none" stroke-linejoin="miter" stroke-miterlimit="3" stroke-linecap="butt"/>
<path d="M585.0,218.1 L611.9,216.2 L640.0,216.0" stroke="#00c8c8" stroke-width="2.3" fill="none" stroke-linejoin="miter" stroke-miterlimit="3" stroke-linecap="butt"/>
<path d="M566.9,287.5 L581.0,305.0 L590.0,320.0" stroke="#00c8c8" stroke-width="2.3" fill="none" stroke-linejoin="miter" stroke-miterlimit="3" stroke-linecap="butt"/>
<path d="M640.0,240.0 L632.0,262.0 L620.0,291.0 L597.5,335.0 L582.9,378.9 L562.8,417.8 L525.2,470.4 L506.4,500.5 L497.6,526.9 L493.4,550.7" stroke="#00c8c8" stroke-width="2.3" fill="none" stroke-linejoin="miter" stroke-miterlimit="3" stroke-linecap="butt"/>
<path d="M343.1,458.1 L333.1,503.1 L363.8,525.6 L410.0,545.6" stroke="#00c8c8" stroke-width="2.3" fill="none" stroke-linejoin="miter" stroke-miterlimit="3" stroke-linecap="butt"/>
<path d="M585.6,722.6 L438.9,762.7 L394.5,805.3 L427.1,836.7" stroke="#00c8c8" stroke-width="2.3" fill="none" stroke-linejoin="miter" stroke-miterlimit="3" stroke-linecap="butt"/>
<path d="M456.5,915.7 L508.7,910.2 L558.1,894.4 L596.9,872.5 L632.0,845.5 L657.1,816.6 L664.1,786.5" stroke="#00c8c8" stroke-width="2.3" fill="none" stroke-linejoin="miter" stroke-miterlimit="3" stroke-linecap="butt"/>
<path d="M664.1,786.5 L660.9,772.7 L652.1,750.2 L638.8,735.0" stroke="#1e3cff" stroke-width="2.1" fill="none" stroke-linejoin="miter" stroke-miterlimit="3" stroke-linecap="butt"/>
<path d="M610.2,778.5 L641.6,777.2" stroke="#00c8c8" stroke-width="2.3" fill="none" stroke-linejoin="miter" stroke-miterlimit="3" stroke-linecap="butt"/>
<path d="M641.6,777.2 L672.2,782.8 L711.0,807.0" stroke="#1e3cff" stroke-width="2.1" fill="none" stroke-linejoin="miter" stroke-miterlimit="3" stroke-linecap="butt"/>
<path d="M537.5,761.9 L551.3,757.7" stroke="#00c8c8" stroke-width="2.3" fill="none" stroke-linejoin="miter" stroke-miterlimit="3" stroke-linecap="butt"/>
<path d="M540.0,815.9 L570.6,775.2" stroke="#00c8c8" stroke-width="2.3" fill="none" stroke-linejoin="miter" stroke-miterlimit="3" stroke-linecap="butt"/>
<path d="M540.5,820.4 L573.0,777.7" stroke="#00c8c8" stroke-width="2.3" fill="none" stroke-linejoin="miter" stroke-miterlimit="3" stroke-linecap="butt"/>
<path d="M549.0,658.0 L586.9,688.1 L605.0,702.5 L622.0,712.0" stroke="#1e3cff" stroke-width="2.1" fill="none" stroke-linejoin="miter" stroke-miterlimit="3" stroke-linecap="butt"/>
<path d="M590.0,661.2 L630.0,668.8" stroke="#1e3cff" stroke-width="2.1" fill="none" stroke-linejoin="miter" stroke-miterlimit="3" stroke-linecap="butt"/>
<path d="M660.0,556.0 L621.2,640.0" stroke="#1e3cff" stroke-width="2.1" fill="none" stroke-linejoin="miter" stroke-miterlimit="3" stroke-linecap="butt"/>
<path d="M621.2,640.0 L607.5,671.0" stroke="#00c8c8" stroke-width="2.3" fill="none" stroke-linejoin="miter" stroke-miterlimit="3" stroke-linecap="butt"/>
<path d="M641.2,541.9 L630.0,604.4" stroke="#00c8c8" stroke-width="2.3" fill="none" stroke-linejoin="miter" stroke-miterlimit="3" stroke-linecap="butt"/>
<path d="M724.4,611.9 L687.5,646.2 L668.0,680.0" stroke="#1e3cff" stroke-width="2.1" fill="none" stroke-linejoin="miter" stroke-miterlimit="3" stroke-linecap="butt"/>
<path d="M633.8,645.0 L626.2,665.0" stroke="#00c8c8" stroke-width="2.3" fill="none" stroke-linejoin="miter" stroke-miterlimit="3" stroke-linecap="butt"/>
<path d="M626.5,511.7 L641.6,541.8" stroke="#00c8c8" stroke-width="2.3" fill="none" stroke-linejoin="miter" stroke-miterlimit="3" stroke-linecap="butt"/>
<path d="M621.5,380.0 L622.8,397.6 L662.9,462.8" stroke="#00c8c8" stroke-width="2.3" fill="none" stroke-linejoin="miter" stroke-miterlimit="3" stroke-linecap="butt"/>
<path d="M610.2,428.9 L657.9,510.4 L665.4,555.5" stroke="#00c8c8" stroke-width="2.3" fill="none" stroke-linejoin="miter" stroke-miterlimit="3" stroke-linecap="butt"/>
<path d="M614.0,425.1 L660.0,505.0 L668.0,553.0" stroke="#00c8c8" stroke-width="2.3" fill="none" stroke-linejoin="miter" stroke-miterlimit="3" stroke-linecap="butt"/>
<path d="M636.6,450.2 L660.4,510.4" stroke="#00c8c8" stroke-width="2.3" fill="none" stroke-linejoin="miter" stroke-miterlimit="3" stroke-linecap="butt"/>
<path d="M644.1,504.1 L665.4,553.0" stroke="#00c8c8" stroke-width="2.3" fill="none" stroke-linejoin="miter" stroke-miterlimit="3" stroke-linecap="butt"/>
<path d="M644.1,388.8 L655.4,480.3 L665.4,555.5" stroke="#1e3cff" stroke-width="2.1" fill="none" stroke-linejoin="miter" stroke-miterlimit="3" stroke-linecap="butt"/>
<path d="M657.9,446.5 L676.7,492.9" stroke="#1e3cff" stroke-width="2.1" fill="none" stroke-linejoin="miter" stroke-miterlimit="3" stroke-linecap="butt"/>
<path d="M689.2,380.0 L703.0,442.7 L710.5,485.3 L713.0,543.0 L705.5,605.7 L693.0,640.8" stroke="#1e3cff" stroke-width="2.1" fill="none" stroke-linejoin="miter" stroke-miterlimit="3" stroke-linecap="butt"/>
<path d="M710.5,380.0 L715.5,417.6 L720.6,490.3 L715.5,530.5 L715.5,560.6 L706.8,640.8" stroke="#00c8c8" stroke-width="2.3" fill="none" stroke-linejoin="miter" stroke-miterlimit="3" stroke-linecap="butt"/>
<path d="M654.1,520.4 L667.9,560.6" stroke="#1e3cff" stroke-width="2.1" fill="none" stroke-linejoin="miter" stroke-miterlimit="3" stroke-linecap="butt"/>
<path d="M660.4,553.0 L650.3,580.6 L620.3,643.3" stroke="#1e3cff" stroke-width="2.1" fill="none" stroke-linejoin="miter" stroke-miterlimit="3" stroke-linecap="butt"/>
<path d="M716.3,126.4 L789.1,111.8 L830.4,106.3 L863.0,100.5" stroke="#aaaaaa" stroke-width="2.2" fill="none" stroke-linejoin="miter" stroke-miterlimit="3" stroke-linecap="butt"/>
<path d="M850.5,109.6 L903.2,103.0 L968.4,100.5" stroke="#aaaaaa" stroke-width="2.2" fill="none" stroke-linejoin="miter" stroke-miterlimit="3" stroke-linecap="butt"/>
<path d="M774.8,117.6 L736.4,135.1 L781.5,122.6 L832.9,128.1 L888.1,143.2" stroke="#aaaaaa" stroke-width="2.2" fill="none" stroke-linejoin="miter" stroke-miterlimit="3" stroke-linecap="butt"/>
<path d="M712.6,143.2 L747.7,141.4 L794.1,148.2 L845.0,159.5" stroke="#aaaaaa" stroke-width="2.2" fill="none" stroke-linejoin="miter" stroke-miterlimit="3" stroke-linecap="butt"/>
<path d="M723.9,167.7 L762.7,148.2 L820.4,136.4 L898.2,138.4" stroke="#aaaaaa" stroke-width="2.2" fill="none" stroke-linejoin="miter" stroke-miterlimit="3" stroke-linecap="butt"/>
<path d="M645.3,205.2 L690.0,170.3 L707.6,156.5" stroke="#aaaaaa" stroke-width="2.2" fill="none" stroke-linejoin="miter" stroke-miterlimit="3" stroke-linecap="butt"/>
<path d="M807.4,167.7 L891.9,171.8" stroke="#00c8c8" stroke-width="2.3" fill="none" stroke-linejoin="miter" stroke-miterlimit="3" stroke-linecap="butt"/>
<path d="M804.1,209.1 L848.0,213.4" stroke="#00c8c8" stroke-width="2.3" fill="none" stroke-linejoin="miter" stroke-miterlimit="3" stroke-linecap="butt"/>
<path d="M763.5,154.5 L745.7,168.2 L726.4,199.1 L706.3,250.5 L696.3,271.8 L698.8,318.2 L705.0,353.3 L710.5,390.8" stroke="#00c8c8" stroke-width="2.3" fill="none" stroke-linejoin="miter" stroke-miterlimit="3" stroke-linecap="butt"/>
<path d="M741.4,184.0 L727.6,240.5 L718.1,303.9 L712.6,353.3 L713.0,372.0" stroke="#00c8c8" stroke-width="2.3" fill="none" stroke-linejoin="miter" stroke-miterlimit="3" stroke-linecap="butt"/>
<path d="M748.2,208.6 L727.6,287.1 L716.3,353.3 L714.3,371.0" stroke="#00c8c8" stroke-width="2.3" fill="none" stroke-linejoin="miter" stroke-miterlimit="3" stroke-linecap="butt"/>
<path d="M696.3,271.8 L718.1,258.8" stroke="#00c8c8" stroke-width="2.3" fill="none" stroke-linejoin="miter" stroke-miterlimit="3" stroke-linecap="butt"/>
<path d="M751.4,125.9 L690.0,163.0" stroke="#00c8c8" stroke-width="2.3" fill="none" stroke-linejoin="miter" stroke-miterlimit="3" stroke-linecap="butt"/>
<path d="M751.4,125.9 L694.0,172.0" stroke="#00c8c8" stroke-width="2.3" fill="none" stroke-linejoin="miter" stroke-miterlimit="3" stroke-linecap="butt"/>
<path d="M736.4,135.1 L690.0,162.7" stroke="#00c8c8" stroke-width="2.3" fill="none" stroke-linejoin="miter" stroke-miterlimit="3" stroke-linecap="butt"/>
<path d="M725.0,167.7 L690.0,190.3" stroke="#00c8c8" stroke-width="2.3" fill="none" stroke-linejoin="miter" stroke-miterlimit="3" stroke-linecap="butt"/>
<path d="M711.3,171.5 L690.0,186.5" stroke="#00c8c8" stroke-width="2.3" fill="none" stroke-linejoin="miter" stroke-miterlimit="3" stroke-linecap="butt"/>
<path d="M742.0,131.0 L680.0,175.0" stroke="#00c8c8" stroke-width="2.3" fill="none" stroke-linejoin="miter" stroke-miterlimit="3" stroke-linecap="butt"/>
<path d="M730.0,140.0 L672.0,190.0" stroke="#00c8c8" stroke-width="2.3" fill="none" stroke-linejoin="miter" stroke-miterlimit="3" stroke-linecap="butt"/>
<path d="M613.1,146.9 L677.5,126.0" stroke="#00c8c8" stroke-width="2.3" fill="none" stroke-linejoin="miter" stroke-miterlimit="3" stroke-linecap="butt"/>
<path d="M670.5,126.5 L661.2,155.0 L655.0,180.0 L654.4,196.2 L655.0,207.5 L652.0,240.0" stroke="#00c8c8" stroke-width="2.3" fill="none" stroke-linejoin="miter" stroke-miterlimit="3" stroke-linecap="butt"/>
<path d="M655.0,207.5 L690.6,142.5" stroke="#00c8c8" stroke-width="2.3" fill="none" stroke-linejoin="miter" stroke-miterlimit="3" stroke-linecap="butt"/>
<path d="M657.5,205.0 L693.8,146.2" stroke="#00c8c8" stroke-width="2.3" fill="none" stroke-linejoin="miter" stroke-miterlimit="3" stroke-linecap="butt"/>
<path d="M642.5,227.5 L660.0,195.0 L676.2,167.5 L680.6,155.0" stroke="#00c8c8" stroke-width="2.3" fill="none" stroke-linejoin="miter" stroke-miterlimit="3" stroke-linecap="butt"/>
<path d="M650.0,225.0 L667.5,182.5 L690.0,160.0 L712.5,142.5 L735.6,134.4" stroke="#00c8c8" stroke-width="2.3" fill="none" stroke-linejoin="miter" stroke-miterlimit="3" stroke-linecap="butt"/>
<path d="M660.0,215.0 L685.0,180.0 L712.5,152.0 L739.0,138.0" stroke="#00c8c8" stroke-width="2.3" fill="none" stroke-linejoin="miter" stroke-miterlimit="3" stroke-linecap="butt"/>
<path d="M644.4,205.6 L665.0,185.0 L690.0,167.5 L705.0,159.4" stroke="#aaaaaa" stroke-width="2.2" fill="none" stroke-linejoin="miter" stroke-miterlimit="3" stroke-linecap="butt"/>
<path d="M723.8,167.5 L739.5,159.4" stroke="#aaaaaa" stroke-width="2.2" fill="none" stroke-linejoin="miter" stroke-miterlimit="3" stroke-linecap="butt"/>
<path d="M711.2,171.2 L672.5,200.0 L655.0,225.0 L648.0,255.0" stroke="#00c8c8" stroke-width="2.3" fill="none" stroke-linejoin="miter" stroke-miterlimit="3" stroke-linecap="butt"/>
<path d="M723.8,167.5 L692.5,190.6 L667.5,210.0 L655.0,240.0" stroke="#00c8c8" stroke-width="2.3" fill="none" stroke-linejoin="miter" stroke-miterlimit="3" stroke-linecap="butt"/>
<path d="M583.1,158.8 L612.5,216.2 L630.0,251.2 L640.0,285.0" stroke="#00c8c8" stroke-width="2.3" fill="none" stroke-linejoin="miter" stroke-miterlimit="3" stroke-linecap="butt"/>
<path d="M596.2,166.9 L621.2,217.5 L632.5,255.0 L642.0,300.0" stroke="#00c8c8" stroke-width="2.3" fill="none" stroke-linejoin="miter" stroke-miterlimit="3" stroke-linecap="butt"/>
<path d="M583.1,171.2 L608.8,192.5 L626.2,211.2 L637.5,242.5 L645.0,290.0" stroke="#00c8c8" stroke-width="2.3" fill="none" stroke-linejoin="miter" stroke-miterlimit="3" stroke-linecap="butt"/>
<path d="M585.6,218.1 L597.5,237.5" stroke="#00c8c8" stroke-width="2.3" fill="none" stroke-linejoin="miter" stroke-miterlimit="3" stroke-linecap="butt"/>
<path d="M630.6,196.2 L630.0,248.8 L636.0,300.0" stroke="#00c8c8" stroke-width="2.3" fill="none" stroke-linejoin="miter" stroke-miterlimit="3" stroke-linecap="butt"/>
<path d="M613.8,200.0 L637.5,212.5" stroke="#00c8c8" stroke-width="2.3" fill="none" stroke-linejoin="miter" stroke-miterlimit="3" stroke-linecap="butt"/>
<path d="M739.5,177.5 L722.0,215.0 L705.0,255.0" stroke="#00c8c8" stroke-width="2.3" fill="none" stroke-linejoin="miter" stroke-miterlimit="3" stroke-linecap="butt"/>
<path d="M739.5,190.0 L727.5,242.5 L722.0,262.0" stroke="#00c8c8" stroke-width="2.3" fill="none" stroke-linejoin="miter" stroke-miterlimit="3" stroke-linecap="butt"/>
<path d="M687.5,208.8 L680.0,242.5 L680.0,262.0 L683.0,286.7 L688.0,305.5" stroke="#00c8c8" stroke-width="2.3" fill="none" stroke-linejoin="miter" stroke-miterlimit="3" stroke-linecap="butt"/>
<path d="M677.5,217.5 L680.0,250.0 L688.0,320.0" stroke="#00c8c8" stroke-width="2.3" fill="none" stroke-linejoin="miter" stroke-miterlimit="3" stroke-linecap="butt"/>
<path d="M685.5,215.3 L676.7,255.4 L683.0,286.7" stroke="#00c8c8" stroke-width="2.3" fill="none" stroke-linejoin="miter" stroke-miterlimit="3" stroke-linecap="butt"/>
<path d="M627.8,303.0 L642.8,338.2 L655.4,390.8" stroke="#1e3cff" stroke-width="2.1" fill="none" stroke-linejoin="miter" stroke-miterlimit="3" stroke-linecap="butt"/>
<path d="M677.9,330.6 L693.0,393.3" stroke="#1e3cff" stroke-width="2.1" fill="none" stroke-linejoin="miter" stroke-miterlimit="3" stroke-linecap="butt"/>
<path d="M629.0,261.7 L634.0,280.5" stroke="#1e3cff" stroke-width="2.1" fill="none" stroke-linejoin="miter" stroke-miterlimit="3" stroke-linecap="butt"/>
<path d="M645.3,333.0 L650.3,393.0" stroke="#1e3cff" stroke-width="2.1" fill="none" stroke-linejoin="miter" stroke-miterlimit="3" stroke-linecap="butt"/>
<path d="M650.3,212.8 L657.9,280.5 L670.4,338.2 L680.0,393.0" stroke="#00c8c8" stroke-width="2.3" fill="none" stroke-linejoin="miter" stroke-miterlimit="3" stroke-linecap="butt"/>
<path d="M662.9,220.3 L667.9,280.5 L671.7,288.0 L680.4,355.7 L688.0,395.0" stroke="#00c8c8" stroke-width="2.3" fill="none" stroke-linejoin="miter" stroke-miterlimit="3" stroke-linecap="butt"/>
<path d="M679.2,210.3 L670.4,270.4 L673.0,330.0 L684.0,395.0" stroke="#00c8c8" stroke-width="2.3" fill="none" stroke-linejoin="miter" stroke-miterlimit="3" stroke-linecap="butt"/>
<text class="hl" x="555.0" y="442.7" textLength="34.2" lengthAdjust="spacingAndGlyphs">168</text>
<text class="hl" x="489.6" y="552.1" textLength="34.2" lengthAdjust="spacingAndGlyphs">144</text>
<text class="hl" x="528.0" y="786.7" textLength="22.8" lengthAdjust="spacingAndGlyphs">96</text>
<text class="hl" x="633.3" y="802.5" textLength="22.8" lengthAdjust="spacingAndGlyphs">72</text>
<text class="hl" x="648.3" y="841.4" textLength="22.8" lengthAdjust="spacingAndGlyphs">48</text>
<text class="hl" x="499.9" y="935.4" textLength="22.8" lengthAdjust="spacingAndGlyphs">24</text>
<text class="hl" x="578.0" y="712.7" textLength="22.8" lengthAdjust="spacingAndGlyphs">72</text>
<text class="hl" x="634.8" y="529.4" textLength="22.8" lengthAdjust="spacingAndGlyphs">24</text>
<text class="hl" x="889.4" y="163.4" textLength="22.8" lengthAdjust="spacingAndGlyphs">96</text>
<text class="hl" x="705.5" y="167.4" textLength="22.8" lengthAdjust="spacingAndGlyphs">72</text>
<text class="hl" x="684.2" y="215.4" textLength="22.8" lengthAdjust="spacingAndGlyphs">72</text>
<text class="hl" x="665.4" y="225.5" textLength="22.8" lengthAdjust="spacingAndGlyphs">72</text>
<text class="hl" x="621.5" y="284.4" textLength="22.8" lengthAdjust="spacingAndGlyphs">48</text>
<text class="hl" x="592.7" y="332.1" textLength="22.8" lengthAdjust="spacingAndGlyphs">48</text>
<text class="hl" x="651.6" y="318.3" textLength="22.8" lengthAdjust="spacingAndGlyphs">48</text>
<text class="hl" x="657.9" y="340.8" textLength="22.8" lengthAdjust="spacingAndGlyphs">48</text>
<text class="hl" x="666.6" y="363.4" textLength="22.8" lengthAdjust="spacingAndGlyphs">48</text>
<text class="hl" x="681.0" y="575.7" textLength="22.8" lengthAdjust="spacingAndGlyphs">24</text>
<text class="hl" x="690.0" y="587.7" textLength="22.8" lengthAdjust="spacingAndGlyphs">24</text>
<text class="hl" x="672.0" y="595.7" textLength="22.8" lengthAdjust="spacingAndGlyphs">24</text>
<text class="hl" x="676.0" y="610.7" textLength="22.8" lengthAdjust="spacingAndGlyphs">24</text>
<text class="hl" x="686.0" y="635.7" textLength="22.8" lengthAdjust="spacingAndGlyphs">24</text>
<text class="hl" x="660.0" y="614.7" textLength="11.4" lengthAdjust="spacingAndGlyphs">2</text>
<text class="hl" x="664.7" y="649.2" textLength="22.8" lengthAdjust="spacingAndGlyphs">24</text>
<rect x="393.4" y="104.4" width="3.4" height="3.4" rx="0.7" fill="rgba(36,44,44,0.68)"/>
<rect x="518.7" y="195.3" width="3.4" height="3.4" rx="0.7" fill="rgba(36,44,44,0.68)"/>
<rect x="577.7" y="205.2" width="3.4" height="3.4" rx="0.7" fill="rgba(36,44,44,0.68)"/>
<rect x="583.3" y="216.4" width="3.4" height="3.4" rx="0.7" fill="rgba(36,44,44,0.68)"/>
<rect x="582.7" y="266.4" width="3.4" height="3.4" rx="0.7" fill="rgba(36,44,44,0.68)"/>
<rect x="599.5" y="304.6" width="3.4" height="3.4" rx="0.7" fill="rgba(36,44,44,0.68)"/>
<rect x="610.2" y="214.6" width="3.4" height="3.4" rx="0.7" fill="rgba(36,44,44,0.68)"/>
<rect x="561.1" y="416.1" width="3.4" height="3.4" rx="0.7" fill="rgba(36,44,44,0.68)"/>
<rect x="495.9" y="525.2" width="3.4" height="3.4" rx="0.7" fill="rgba(36,44,44,0.68)"/>
<rect x="507.0" y="908.5" width="3.4" height="3.4" rx="0.7" fill="rgba(36,44,44,0.68)"/>
<rect x="655.4" y="814.9" width="3.4" height="3.4" rx="0.7" fill="rgba(36,44,44,0.68)"/>
<rect x="639.9" y="775.5" width="3.4" height="3.4" rx="0.7" fill="rgba(36,44,44,0.68)"/>
<rect x="535.8" y="760.2" width="3.4" height="3.4" rx="0.7" fill="rgba(36,44,44,0.68)"/>
<rect x="585.2" y="686.4" width="3.4" height="3.4" rx="0.7" fill="rgba(36,44,44,0.68)"/>
<rect x="639.5" y="540.2" width="3.4" height="3.4" rx="0.7" fill="rgba(36,44,44,0.68)"/>
<rect x="642.4" y="502.4" width="3.4" height="3.4" rx="0.7" fill="rgba(36,44,44,0.68)"/>
<rect x="713.8" y="558.9" width="3.4" height="3.4" rx="0.7" fill="rgba(36,44,44,0.68)"/>
<rect x="711.3" y="541.3" width="3.4" height="3.4" rx="0.7" fill="rgba(36,44,44,0.68)"/>
<rect x="705.2" y="505.3" width="3.4" height="3.4" rx="0.7" fill="rgba(36,44,44,0.68)"/>
<rect x="787.4" y="110.1" width="3.4" height="3.4" rx="0.7" fill="rgba(36,44,44,0.68)"/>
<rect x="734.7" y="133.4" width="3.4" height="3.4" rx="0.7" fill="rgba(36,44,44,0.68)"/>
<rect x="886.4" y="141.5" width="3.4" height="3.4" rx="0.7" fill="rgba(36,44,44,0.68)"/>
<rect x="710.9" y="141.5" width="3.4" height="3.4" rx="0.7" fill="rgba(36,44,44,0.68)"/>
<rect x="792.4" y="146.5" width="3.4" height="3.4" rx="0.7" fill="rgba(36,44,44,0.68)"/>
<rect x="896.5" y="136.7" width="3.4" height="3.4" rx="0.7" fill="rgba(36,44,44,0.68)"/>
<rect x="705.9" y="154.8" width="3.4" height="3.4" rx="0.7" fill="rgba(36,44,44,0.68)"/>
<rect x="759.8" y="119.1" width="3.4" height="3.4" rx="0.7" fill="rgba(36,44,44,0.68)"/>
<rect x="846.3" y="211.7" width="3.4" height="3.4" rx="0.7" fill="rgba(36,44,44,0.68)"/>
<rect x="761.8" y="152.8" width="3.4" height="3.4" rx="0.7" fill="rgba(36,44,44,0.68)"/>
<rect x="694.6" y="270.1" width="3.4" height="3.4" rx="0.7" fill="rgba(36,44,44,0.68)"/>
<rect x="716.4" y="302.2" width="3.4" height="3.4" rx="0.7" fill="rgba(36,44,44,0.68)"/>
<rect x="725.9" y="285.4" width="3.4" height="3.4" rx="0.7" fill="rgba(36,44,44,0.68)"/>
<rect x="690.8" y="189.1" width="3.4" height="3.4" rx="0.7" fill="rgba(36,44,44,0.68)"/>
<rect x="675.8" y="124.3" width="3.4" height="3.4" rx="0.7" fill="rgba(36,44,44,0.68)"/>
<rect x="678.9" y="153.3" width="3.4" height="3.4" rx="0.7" fill="rgba(36,44,44,0.68)"/>
<rect x="710.8" y="140.8" width="3.4" height="3.4" rx="0.7" fill="rgba(36,44,44,0.68)"/>
<rect x="733.9" y="132.7" width="3.4" height="3.4" rx="0.7" fill="rgba(36,44,44,0.68)"/>
<rect x="652.0" y="180.8" width="3.4" height="3.4" rx="0.7" fill="rgba(36,44,44,0.68)"/>
<rect x="663.3" y="183.3" width="3.4" height="3.4" rx="0.7" fill="rgba(36,44,44,0.68)"/>
<rect x="670.8" y="198.3" width="3.4" height="3.4" rx="0.7" fill="rgba(36,44,44,0.68)"/>
<rect x="690.8" y="188.9" width="3.4" height="3.4" rx="0.7" fill="rgba(36,44,44,0.68)"/>
<rect x="610.8" y="214.6" width="3.4" height="3.4" rx="0.7" fill="rgba(36,44,44,0.68)"/>
<rect x="628.3" y="249.6" width="3.4" height="3.4" rx="0.7" fill="rgba(36,44,44,0.68)"/>
<rect x="635.8" y="210.8" width="3.4" height="3.4" rx="0.7" fill="rgba(36,44,44,0.68)"/>
<rect x="681.3" y="285.0" width="3.4" height="3.4" rx="0.7" fill="rgba(36,44,44,0.68)"/>
<rect x="686.3" y="318.9" width="3.4" height="3.4" rx="0.7" fill="rgba(36,44,44,0.68)"/>
<rect x="653.7" y="251.2" width="3.4" height="3.4" rx="0.7" fill="rgba(36,44,44,0.68)"/>
<rect x="658.7" y="288.8" width="3.4" height="3.4" rx="0.7" fill="rgba(36,44,44,0.68)"/>
<rect x="658.7" y="301.3" width="3.4" height="3.4" rx="0.7" fill="rgba(36,44,44,0.68)"/>
<rect x="670.0" y="286.3" width="3.4" height="3.4" rx="0.7" fill="rgba(36,44,44,0.68)"/>
<rect x="671.3" y="336.3" width="3.4" height="3.4" rx="0.7" fill="rgba(36,44,44,0.68)"/>
<rect x="657.2" y="581.2" width="3.4" height="3.4" rx="0.7" fill="rgba(36,44,44,0.68)"/>
<rect x="620.9" y="332.3" width="3.4" height="3.4" rx="0.7" fill="rgba(36,44,44,0.68)"/>
<rect x="683.6" y="550.7" width="3.4" height="3.4" rx="0.7" fill="rgba(36,44,44,0.68)"/>
<rect x="678.2" y="588.6" width="3.4" height="3.4" rx="0.7" fill="rgba(36,44,44,0.68)"/>
<rect x="689.7" y="545.0" width="3.4" height="3.4" rx="0.7" fill="rgba(36,44,44,0.68)"/>
<rect x="686.5" y="534.9" width="3.4" height="3.4" rx="0.7" fill="rgba(36,44,44,0.68)"/>
<rect x="672.3" y="589.6" width="3.4" height="3.4" rx="0.7" fill="rgba(36,44,44,0.68)"/>
<rect x="675.4" y="589.4" width="3.4" height="3.4" rx="0.7" fill="rgba(36,44,44,0.68)"/>
<rect x="700.6" y="555.3" width="3.4" height="3.4" rx="0.7" fill="rgba(36,44,44,0.68)"/>
<rect x="677.5" y="569.8" width="3.4" height="3.4" rx="0.7" fill="rgba(36,44,44,0.68)"/>
<rect x="665.8" y="562.6" width="3.4" height="3.4" rx="0.7" fill="rgba(36,44,44,0.68)"/>
<rect x="670.6" y="573.3" width="3.4" height="3.4" rx="0.7" fill="rgba(36,44,44,0.68)"/>
<rect x="646.2" y="331.1" width="3.4" height="3.4" rx="0.7" fill="rgba(36,44,44,0.68)"/>
<rect x="661.6" y="545.2" width="3.4" height="3.4" rx="0.7" fill="rgba(36,44,44,0.68)"/>
<rect x="630.3" y="356.2" width="3.4" height="3.4" rx="0.7" fill="rgba(36,44,44,0.68)"/>
<rect x="705.5" y="568.0" width="3.4" height="3.4" rx="0.7" fill="rgba(36,44,44,0.68)"/>
<rect x="683.7" y="566.3" width="3.4" height="3.4" rx="0.7" fill="rgba(36,44,44,0.68)"/>
<rect x="693.5" y="533.3" width="3.4" height="3.4" rx="0.7" fill="rgba(36,44,44,0.68)"/>
<rect x="670.6" y="544.9" width="3.4" height="3.4" rx="0.7" fill="rgba(36,44,44,0.68)"/>
<rect x="665.9" y="561.2" width="3.4" height="3.4" rx="0.7" fill="rgba(36,44,44,0.68)"/>
<rect x="700.2" y="533.3" width="3.4" height="3.4" rx="0.7" fill="rgba(36,44,44,0.68)"/>
<rect x="688.5" y="330.1" width="3.4" height="3.4" rx="0.7" fill="rgba(36,44,44,0.68)"/>
<rect x="663.8" y="577.3" width="3.4" height="3.4" rx="0.7" fill="rgba(36,44,44,0.68)"/>
<rect x="674.2" y="555.0" width="3.4" height="3.4" rx="0.7" fill="rgba(36,44,44,0.68)"/>
<rect x="654.5" y="564.2" width="3.4" height="3.4" rx="0.7" fill="rgba(36,44,44,0.68)"/>
<rect x="612.1" y="359.2" width="3.4" height="3.4" rx="0.7" fill="rgba(36,44,44,0.68)"/>
<rect x="669.8" y="583.4" width="3.4" height="3.4" rx="0.7" fill="rgba(36,44,44,0.68)"/>
<rect x="689.0" y="539.6" width="3.4" height="3.4" rx="0.7" fill="rgba(36,44,44,0.68)"/>
<rect x="664.3" y="314.3" width="3.4" height="3.4" rx="0.7" fill="rgba(36,44,44,0.68)"/>
<rect x="699.8" y="591.9" width="3.4" height="3.4" rx="0.7" fill="rgba(36,44,44,0.68)"/>
<rect x="688.5" y="324.5" width="3.4" height="3.4" rx="0.7" fill="rgba(36,44,44,0.68)"/>
<rect x="666.1" y="548.5" width="3.4" height="3.4" rx="0.7" fill="rgba(36,44,44,0.68)"/>
<rect x="691.8" y="590.3" width="3.4" height="3.4" rx="0.7" fill="rgba(36,44,44,0.68)"/>
<rect x="678.4" y="583.5" width="3.4" height="3.4" rx="0.7" fill="rgba(36,44,44,0.68)"/>
<rect x="673.0" y="556.7" width="3.4" height="3.4" rx="0.7" fill="rgba(36,44,44,0.68)"/>
<rect x="667.3" y="548.7" width="3.4" height="3.4" rx="0.7" fill="rgba(36,44,44,0.68)"/>
<rect x="666.4" y="540.1" width="3.4" height="3.4" rx="0.7" fill="rgba(36,44,44,0.68)"/>
<rect x="688.2" y="587.0" width="3.4" height="3.4" rx="0.7" fill="rgba(36,44,44,0.68)"/>
<rect x="684.3" y="564.5" width="3.4" height="3.4" rx="0.7" fill="rgba(36,44,44,0.68)"/>
<rect x="662.6" y="341.5" width="3.4" height="3.4" rx="0.7" fill="rgba(36,44,44,0.68)"/>
<rect x="685.6" y="575.0" width="3.4" height="3.4" rx="0.7" fill="rgba(36,44,44,0.68)"/>
<rect x="680.5" y="589.5" width="3.4" height="3.4" rx="0.7" fill="rgba(36,44,44,0.68)"/>
<rect x="652.2" y="309.8" width="3.4" height="3.4" rx="0.7" fill="rgba(36,44,44,0.68)"/>
<rect x="701.5" y="550.9" width="3.4" height="3.4" rx="0.7" fill="rgba(36,44,44,0.68)"/>
<rect x="687.4" y="569.2" width="3.4" height="3.4" rx="0.7" fill="rgba(36,44,44,0.68)"/>
<rect x="674.7" y="538.4" width="3.4" height="3.4" rx="0.7" fill="rgba(36,44,44,0.68)"/>
<rect x="651.4" y="573.5" width="3.4" height="3.4" rx="0.7" fill="rgba(36,44,44,0.68)"/>
<rect x="691.7" y="545.4" width="3.4" height="3.4" rx="0.7" fill="rgba(36,44,44,0.68)"/>
<rect x="672.5" y="575.9" width="3.4" height="3.4" rx="0.7" fill="rgba(36,44,44,0.68)"/>
<rect x="691.3" y="585.1" width="3.4" height="3.4" rx="0.7" fill="rgba(36,44,44,0.68)"/>
<rect x="686.9" y="550.6" width="3.4" height="3.4" rx="0.7" fill="rgba(36,44,44,0.68)"/>
<rect x="664.7" y="549.3" width="3.4" height="3.4" rx="0.7" fill="rgba(36,44,44,0.68)"/>
<rect x="674.3" y="562.2" width="3.4" height="3.4" rx="0.7" fill="rgba(36,44,44,0.68)"/>
<rect x="681.1" y="570.7" width="3.4" height="3.4" rx="0.7" fill="rgba(36,44,44,0.68)"/>
<rect x="653.4" y="550.7" width="3.4" height="3.4" rx="0.7" fill="rgba(36,44,44,0.68)"/>
<rect x="605.2" y="309.0" width="3.4" height="3.4" rx="0.7" fill="rgba(36,44,44,0.68)"/>
<rect x="670.4" y="580.8" width="3.4" height="3.4" rx="0.7" fill="rgba(36,44,44,0.68)"/>
<rect x="678.4" y="544.8" width="3.4" height="3.4" rx="0.7" fill="rgba(36,44,44,0.68)"/>
<rect x="684.1" y="568.9" width="3.4" height="3.4" rx="0.7" fill="rgba(36,44,44,0.68)"/>
<rect x="692.8" y="576.6" width="3.4" height="3.4" rx="0.7" fill="rgba(36,44,44,0.68)"/>
<rect x="676.4" y="353.9" width="3.4" height="3.4" rx="0.7" fill="rgba(36,44,44,0.68)"/>
<rect x="666.5" y="552.8" width="3.4" height="3.4" rx="0.7" fill="rgba(36,44,44,0.68)"/>
<rect x="682.9" y="569.8" width="3.4" height="3.4" rx="0.7" fill="rgba(36,44,44,0.68)"/>
<rect x="652.5" y="302.1" width="3.4" height="3.4" rx="0.7" fill="rgba(36,44,44,0.68)"/>
<rect x="639.9" y="309.9" width="3.4" height="3.4" rx="0.7" fill="rgba(36,44,44,0.68)"/>
<rect x="692.0" y="307.1" width="3.4" height="3.4" rx="0.7" fill="rgba(36,44,44,0.68)"/>
<rect x="638.4" y="272.2" width="3.4" height="3.4" rx="0.7" fill="rgba(36,44,44,0.68)"/>
<rect x="679.4" y="309.9" width="3.4" height="3.4" rx="0.7" fill="rgba(36,44,44,0.68)"/>
<rect x="648.1" y="344.8" width="3.4" height="3.4" rx="0.7" fill="rgba(36,44,44,0.68)"/>
<rect x="650.0" y="317.2" width="3.4" height="3.4" rx="0.7" fill="rgba(36,44,44,0.68)"/>
<rect x="653.3" y="307.1" width="3.4" height="3.4" rx="0.7" fill="rgba(36,44,44,0.68)"/>
<rect x="665.7" y="297.9" width="3.4" height="3.4" rx="0.7" fill="rgba(36,44,44,0.68)"/>
<path d="M610.6,715.6 L590.0,753.0 L607.5,739.4 L620.0,720.0 L635.0,697.5 L646.0,681.0 L653.8,671.6 L665.0,640.0 L672.5,617.5 L677.0,595.0 L681.0,565.0 L681.5,540.0 L679.2,510.0 L672.9,467.8 L665.4,417.6 L660.4,380.0 L655.4,343.0 L645.3,280.5 L638.3,229.0 L642.5,199.4 L653.8,182.5 L665.6,159.4" stroke="#000" stroke-width="4.4" fill="none" stroke-linejoin="round" stroke-linecap="round"/>
<path d="M689.3,120.9 H760" stroke="#000" stroke-width="4.8" fill="none" stroke-linecap="round"/>
<circle cx="760.8" cy="120.8" r="2.2" fill="#3a3a3a"/>
<circle cx="653.9" cy="182.6" r="2.6" fill="#3c3c3c"/>
</g>
<rect x="709.3" y="47.8" width="280" height="52.6" fill="#fff" stroke="#333" stroke-width="1.2"/>
<text x="719.2" y="83.9" textLength="262" lengthAdjust="spacingAndGlyphs" style="font-family:'Liberation Mono',monospace;font-weight:bold;font-size:25.8px;fill:#000;stroke:#fff;stroke-width:0.45px">Weathernerds.org</text>
<rect x="276.0" y="35.0" width="726.0" height="921.5" fill="none" stroke="#000" stroke-width="2"/>
<path d="M329.6,956.5 V962.5" stroke="#000" stroke-width="1.4"/>
<text class="ax" x="330.1" y="982.2" text-anchor="middle" textLength="40" lengthAdjust="spacingAndGlyphs">134E</text>
<path d="M396.5,956.5 V962.5" stroke="#000" stroke-width="1.4"/>
<text class="ax" x="397.0" y="982.2" text-anchor="middle" textLength="40" lengthAdjust="spacingAndGlyphs">136E</text>
<path d="M463.4,956.5 V962.5" stroke="#000" stroke-width="1.4"/>
<text class="ax" x="463.9" y="982.2" text-anchor="middle" textLength="40" lengthAdjust="spacingAndGlyphs">138E</text>
<path d="M530.2,956.5 V962.5" stroke="#000" stroke-width="1.4"/>
<text class="ax" x="530.7" y="982.2" text-anchor="middle" textLength="40" lengthAdjust="spacingAndGlyphs">140E</text>
<path d="M597.1,956.5 V962.5" stroke="#000" stroke-width="1.4"/>
<text class="ax" x="597.6" y="982.2" text-anchor="middle" textLength="40" lengthAdjust="spacingAndGlyphs">142E</text>
<path d="M664.0,956.5 V962.5" stroke="#000" stroke-width="1.4"/>
<text class="ax" x="664.5" y="982.2" text-anchor="middle" textLength="40" lengthAdjust="spacingAndGlyphs">144E</text>
<path d="M730.9,956.5 V962.5" stroke="#000" stroke-width="1.4"/>
<text class="ax" x="731.4" y="982.2" text-anchor="middle" textLength="40" lengthAdjust="spacingAndGlyphs">146E</text>
<path d="M797.8,956.5 V962.5" stroke="#000" stroke-width="1.4"/>
<text class="ax" x="798.3" y="982.2" text-anchor="middle" textLength="40" lengthAdjust="spacingAndGlyphs">148E</text>
<path d="M864.6,956.5 V962.5" stroke="#000" stroke-width="1.4"/>
<text class="ax" x="865.1" y="982.2" text-anchor="middle" textLength="40" lengthAdjust="spacingAndGlyphs">150E</text>
<path d="M931.5,956.5 V962.5" stroke="#000" stroke-width="1.4"/>
<text class="ax" x="932.0" y="982.2" text-anchor="middle" textLength="40" lengthAdjust="spacingAndGlyphs">152E</text>
<path d="M998.4,956.5 V962.5" stroke="#000" stroke-width="1.4"/>
<text class="ax" x="998.9" y="982.2" text-anchor="middle" textLength="40" lengthAdjust="spacingAndGlyphs">154E</text>
<path d="M270.0,898.4 H276.0" stroke="#000" stroke-width="1.4"/>
<text class="ax" x="231.2" y="905.8" textLength="32.5" lengthAdjust="spacingAndGlyphs" style="font-size:21.3px">24N</text>
<path d="M270.0,815.3 H276.0" stroke="#000" stroke-width="1.4"/>
<text class="ax" x="231.2" y="822.7" textLength="32.5" lengthAdjust="spacingAndGlyphs" style="font-size:21.3px">26N</text>
<path d="M270.0,732.2 H276.0" stroke="#000" stroke-width="1.4"/>
<text class="ax" x="231.2" y="739.6" textLength="32.5" lengthAdjust="spacingAndGlyphs" style="font-size:21.3px">28N</text>
<path d="M270.0,649.2 H276.0" stroke="#000" stroke-width="1.4"/>
<text class="ax" x="231.2" y="656.6" textLength="32.5" lengthAdjust="spacingAndGlyphs" style="font-size:21.3px">30N</text>
<path d="M270.0,566.1 H276.0" stroke="#000" stroke-width="1.4"/>
<text class="ax" x="231.2" y="573.5" textLength="32.5" lengthAdjust="spacingAndGlyphs" style="font-size:21.3px">32N</text>
<path d="M270.0,483.1 H276.0" stroke="#000" stroke-width="1.4"/>
<text class="ax" x="231.2" y="490.4" textLength="32.5" lengthAdjust="spacingAndGlyphs" style="font-size:21.3px">34N</text>
<path d="M270.0,400.0 H276.0" stroke="#000" stroke-width="1.4"/>
<text class="ax" x="231.2" y="407.4" textLength="32.5" lengthAdjust="spacingAndGlyphs" style="font-size:21.3px">36N</text>
<path d="M270.0,316.9 H276.0" stroke="#000" stroke-width="1.4"/>
<text class="ax" x="231.2" y="324.3" textLength="32.5" lengthAdjust="spacingAndGlyphs" style="font-size:21.3px">38N</text>
<path d="M270.0,233.9 H276.0" stroke="#000" stroke-width="1.4"/>
<text class="ax" x="231.2" y="241.3" textLength="32.5" lengthAdjust="spacingAndGlyphs" style="font-size:21.3px">40N</text>
<path d="M270.0,150.8 H276.0" stroke="#000" stroke-width="1.4"/>
<text class="ax" x="231.2" y="158.2" textLength="32.5" lengthAdjust="spacingAndGlyphs" style="font-size:21.3px">42N</text>
<path d="M270.0,67.8 H276.0" stroke="#000" stroke-width="1.4"/>
<text class="ax" x="231.2" y="75.2" textLength="32.5" lengthAdjust="spacingAndGlyphs" style="font-size:21.3px">44N</text>
<text class="t" x="4.5" y="26.7" textLength="99.0" lengthAdjust="spacingAndGlyphs" style="font-size:29.4px;letter-spacing:1.0px;stroke-width:0.75px">ECMWF</text>
<text class="t" x="122.5" y="26.7" textLength="148.0" lengthAdjust="spacingAndGlyphs" style="font-size:29.4px;letter-spacing:1.0px;stroke-width:0.75px">Ensemble,</text>
<text class="t" x="289.5" y="26.7" textLength="52.4" lengthAdjust="spacingAndGlyphs" style="font-size:29.4px;letter-spacing:1.0px;stroke-width:0.75px">init:</text>
<text class="t" x="362.2" y="26.7" textLength="197.5" lengthAdjust="spacingAndGlyphs" style="font-size:29.4px;letter-spacing:1.0px;stroke-width:0.75px">2021073000,</text>
<text class="t" x="579.5" y="26.7" textLength="77.4" lengthAdjust="spacingAndGlyphs" style="font-size:29.4px;letter-spacing:1.0px;stroke-width:0.75px">WP95</text>
<text class="t" x="678.5" y="26.7" textLength="83.6" lengthAdjust="spacingAndGlyphs" style="font-size:29.4px;letter-spacing:1.0px;stroke-width:0.75px">Invest</text>
<text class="t" x="997.3000000000001" y="24.8" textLength="56.1" lengthAdjust="spacingAndGlyphs" style="font-size:24.4px;letter-spacing:0.8px;stroke-width:0.5px">color</text>
<text class="t" x="1070.4" y="24.8" textLength="16.9" lengthAdjust="spacingAndGlyphs" style="font-size:24.4px;letter-spacing:0.8px;stroke-width:0.5px">=</text>
<text class="t" x="1104.2" y="24.8" textLength="46.9" lengthAdjust="spacingAndGlyphs" style="font-size:24.4px;letter-spacing:0.8px;stroke-width:0.5px">max</text>
<text class="t" x="1167.5" y="24.8" textLength="48.7" lengthAdjust="spacingAndGlyphs" style="font-size:24.4px;letter-spacing:0.8px;stroke-width:0.5px">wind</text>
<text class="t" x="1233.1000000000001" y="24.8" textLength="39.4" lengthAdjust="spacingAndGlyphs" style="font-size:24.4px;letter-spacing:0.8px;stroke-width:0.5px">(kt)</text>
<rect x="231.4" y="996.3" width="101.85" height="26.8" fill="#aaaaaa" stroke="#000" stroke-width="1.2"/>
<rect x="333.2" y="996.3" width="101.85" height="26.8" fill="#00c8c8" stroke="#000" stroke-width="1.2"/>
<rect x="435.1" y="996.3" width="101.85" height="26.8" fill="#1e3cff" stroke="#000" stroke-width="1.2"/>
<rect x="536.9" y="996.3" width="101.85" height="26.8" fill="#00dc00" stroke="#000" stroke-width="1.2"/>
<rect x="638.8" y="996.3" width="101.85" height="26.8" fill="#e6dc32" stroke="#000" stroke-width="1.2"/>
<rect x="740.6" y="996.3" width="101.85" height="26.8" fill="#f08228" stroke="#000" stroke-width="1.2"/>
<rect x="842.5" y="996.3" width="101.85" height="26.8" fill="#fa3c3c" stroke="#000" stroke-width="1.2"/>
<rect x="944.3" y="996.3" width="101.85" height="26.8" fill="#f00082" stroke="#000" stroke-width="1.2"/>
<path d="M231.4,996.3 L129.5,1009.7 L231.4,1023.1Z" fill="#fff" stroke="#000" stroke-width="1.2" stroke-linejoin="miter"/>
<path d="M1046.2,996.3 L1148.6,1009.7 L1046.2,1023.1Z" fill="#ff64ff" stroke="#000" stroke-width="1.2"/>
<text class="cb" x="231.4" y="1046.8" textLength="12.5" lengthAdjust="spacingAndGlyphs">0</text>
<text class="cb" x="333.2" y="1046.8" textLength="26.5" lengthAdjust="spacingAndGlyphs">20</text>
<text class="cb" x="435.1" y="1046.8" textLength="26.5" lengthAdjust="spacingAndGlyphs">30</text>
<text class="cb" x="536.9" y="1046.8" textLength="26.5" lengthAdjust="spacingAndGlyphs">40</text>
<text class="cb" x="638.8" y="1046.8" textLength="26.5" lengthAdjust="spacingAndGlyphs">50</text>
<text class="cb" x="740.6" y="1046.8" textLength="26.5" lengthAdjust="spacingAndGlyphs">60</text>
<text class="cb" x="842.5" y="1046.8" textLength="26.5" lengthAdjust="spacingAndGlyphs">70</text>
<text class="cb" x="944.3" y="1046.8" textLength="26.5" lengthAdjust="spacingAndGlyphs">80</text>
<text class="cb" x="1046.2" y="1046.8" textLength="39" lengthAdjust="spacingAndGlyphs">100</text>
</svg></body></html>
